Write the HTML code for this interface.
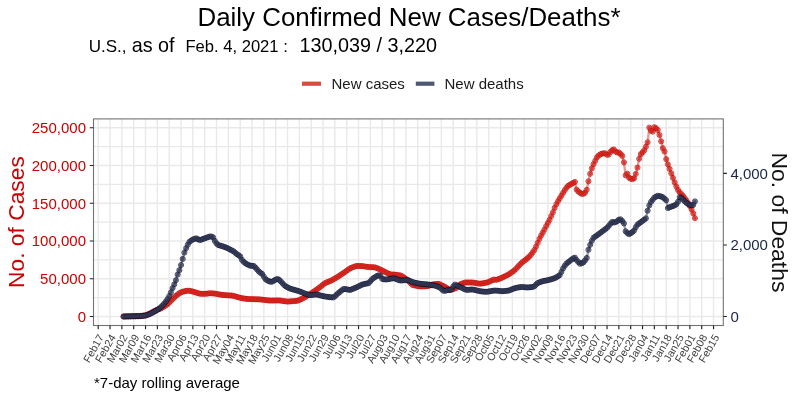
<!DOCTYPE html>
<html><head><meta charset="utf-8"><title>Daily Confirmed New Cases/Deaths</title>
<style>html,body{margin:0;padding:0;background:#fff;}body{width:800px;height:400px;overflow:hidden;font-family:"Liberation Sans",sans-serif;}svg{display:block;will-change:transform;}</style>
</head><body>
<svg width="800" height="400" viewBox="0 0 800 400" font-family="'Liberation Sans', sans-serif"><rect x="0" y="0" width="800" height="400" fill="#fff"/><path d="M93.5 316.50H723.3M93.5 297.62H723.3M93.5 278.74H723.3M93.5 259.86H723.3M93.5 240.98H723.3M93.5 222.10H723.3M93.5 203.22H723.3M93.5 184.34H723.3M93.5 165.46H723.3M93.5 146.58H723.3M93.5 127.70H723.3M98.20 118.9V325.5M110.03 118.9V325.5M121.87 118.9V325.5M133.70 118.9V325.5M145.53 118.9V325.5M157.37 118.9V325.5M169.20 118.9V325.5M181.03 118.9V325.5M192.87 118.9V325.5M204.70 118.9V325.5M216.53 118.9V325.5M228.37 118.9V325.5M240.20 118.9V325.5M252.04 118.9V325.5M263.87 118.9V325.5M275.70 118.9V325.5M287.54 118.9V325.5M299.37 118.9V325.5M311.20 118.9V325.5M323.04 118.9V325.5M334.87 118.9V325.5M346.70 118.9V325.5M358.54 118.9V325.5M370.37 118.9V325.5M382.20 118.9V325.5M394.04 118.9V325.5M405.87 118.9V325.5M417.70 118.9V325.5M429.54 118.9V325.5M441.37 118.9V325.5M453.20 118.9V325.5M465.04 118.9V325.5M476.87 118.9V325.5M488.71 118.9V325.5M500.54 118.9V325.5M512.37 118.9V325.5M524.21 118.9V325.5M536.04 118.9V325.5M547.87 118.9V325.5M559.71 118.9V325.5M571.54 118.9V325.5M583.37 118.9V325.5M595.21 118.9V325.5M607.04 118.9V325.5M618.87 118.9V325.5M630.71 118.9V325.5M642.54 118.9V325.5M654.37 118.9V325.5M666.21 118.9V325.5M678.04 118.9V325.5M689.88 118.9V325.5M701.71 118.9V325.5M713.54 118.9V325.5" stroke="#e9e9e9" stroke-width="1.4" fill="none"/><polyline points="123.56,316.5 125.25,316.45 126.94,316.4 128.63,316.34 130.32,316.29 132.01,316.24 133.7,316.19 135.39,316.14 137.08,316.09 138.77,316.04 140.46,315.94 142.15,315.73 143.84,315.51 145.53,315.29 147.22,314.61 148.91,313.93 150.61,313.15 152.3,312.17 153.99,311.2 155.68,310.44 157.37,309.77 159.06,309.11 160.75,308.45 162.44,307.51 164.13,306.45 165.82,305.39 167.51,304.24 169.2,302.55 170.89,300.86 172.58,299.17 174.27,297.48 175.96,295.88 177.65,294.53 179.34,293.21 181.03,292.46 182.72,291.72 184.42,291.28 186.11,290.9 187.8,290.73 189.49,290.78 191.18,291.13 192.87,291.6 194.56,292.08 196.25,292.6 197.94,293.14 199.63,293.68 201.32,293.8 203.01,293.8 204.7,293.8 206.39,293.74 208.08,293.49 209.77,293.23 211.46,293.32 213.15,293.45 214.84,293.59 216.53,293.89 218.23,294.2 219.92,294.52 221.61,294.83 223.3,295.05 224.99,295.15 226.68,295.25 228.37,295.35 230.06,295.45 231.75,295.55 233.44,295.87 235.13,296.35 236.82,296.83 238.51,297.32 240.2,297.8 241.89,298.19 243.58,298.44 245.27,298.68 246.96,298.92 248.65,299.04 250.34,299.09 252.04,299.15 253.73,299.2 255.42,299.25 257.11,299.31 258.8,299.36 260.49,299.46 262.18,299.66 263.87,299.86 265.56,300.07 267.25,300.27 268.94,300.47 270.63,300.59 272.32,300.55 274.01,300.51 275.7,300.47 277.39,300.43 279.08,300.45 280.77,300.68 282.46,300.91 284.15,301.14 285.85,301.37 287.54,301.6 289.23,301.46 290.92,301.33 292.61,301.19 294.3,301.06 295.99,300.92 297.68,300.72 299.37,299.96 301.06,299.21 302.75,298.45 304.44,297.52 306.13,296.33 307.82,295.31 309.51,294.29 311.2,293.28 312.89,292.22 314.58,291.03 316.27,289.84 317.96,288.65 319.66,287.38 321.35,286.02 323.04,284.67 324.73,283.32 326.42,282.53 328.11,281.86 329.8,281.18 331.49,280.46 333.18,279.49 334.87,278.51 336.56,277.54 338.25,276.5 339.94,275.36 341.63,274.22 343.32,273.09 345.01,271.91 346.7,270.72 348.39,269.53 350.08,268.37 351.77,267.69 353.47,267.01 355.16,266.34 356.85,265.92 358.54,265.97 360.23,266.03 361.92,266.08 363.61,266.28 365.3,266.55 366.99,266.82 368.68,267.09 370.37,267.15 372.06,267.21 373.75,267.26 375.44,267.49 377.13,268.2 378.82,268.91 380.51,269.66 382.2,270.5 383.89,271.35 385.58,272.19 387.28,273.04 388.97,273.88 390.66,274.43 392.35,274.49 394.04,274.56 395.73,274.72 397.42,274.99 399.11,275.26 400.8,275.53 402.49,276.47 404.18,277.66 405.87,278.85 407.56,280.06 409.25,281.75 410.94,283.44 412.63,285.03 414.32,285.36 416.01,285.7 417.7,286.04 419.39,286.38 421.09,286.46 422.78,286.41 424.47,286.35 426.16,286.29 427.85,286.12 429.54,285.5 431.23,284.87 432.92,284.36 434.61,284.18 436.3,284.0 437.99,283.83 439.68,284.22 441.37,285.07 443.06,285.92 444.75,286.78 446.44,287.79 448.13,288.84 449.82,289.89 451.51,289.54 453.2,289.03 454.9,288.51 456.59,287.77 458.28,286.1 459.97,284.43 461.66,283.77 463.35,283.13 465.04,282.5 466.73,282.5 468.42,282.5 470.11,282.5 471.8,282.5 473.49,282.67 475.18,282.95 476.87,283.23 478.56,283.51 480.25,283.71 481.94,283.43 483.63,283.14 485.32,282.86 487.01,282.58 488.71,281.92 490.4,281.11 492.09,280.3 493.78,279.51 495.47,279.84 497.16,279.64 498.85,278.96 500.54,278.28 502.23,277.61 503.92,276.8 505.61,275.96 507.3,275.12 508.99,274.23 510.68,273.04 512.37,271.85 514.06,270.66 515.75,269.12 517.44,267.15 519.13,265.37 520.83,263.67 522.52,262.11 524.21,260.85 525.9,259.58 527.59,258.11 529.28,256.63 530.97,254.71 532.66,252.46 534.35,249.98 536.04,246.66 537.73,242.8 539.42,238.85 541.11,235.56 542.8,232.6 544.49,229.52 546.18,226.13 547.87,222.93 549.56,219.86 551.25,216.05 552.94,212.25 554.63,207.97 556.33,204.35 558.02,201.22 559.71,198.37 561.4,195.66 563.09,192.85 564.78,190.11 566.47,187.71 568.16,185.85 569.85,184.84 571.54,183.84 573.23,182.89 574.92,181.94 576.61,189.58 578.3,191.48 579.99,192.73 581.68,193.86 583.37,193.82 585.06,192.69 586.75,189.78 588.44,181.31 590.14,173.77 591.83,168.44 593.52,164.17 595.21,160.79 596.9,157.44 598.59,155.52 600.28,154.4 601.97,153.63 603.66,153.33 605.35,153.38 607.04,154.75 608.73,154.6 610.42,151.92 612.11,150.19 613.8,149.47 615.49,151.56 617.18,152.5 618.87,152.5 620.56,153.91 622.25,155.95 623.95,162.28 625.64,175.3 627.33,173.65 629.02,177.66 630.71,178.68 632.4,179.14 634.09,178.26 635.78,173.93 637.47,167.62 639.16,158.76 640.85,154.15 642.54,152.46 644.23,150.25 645.92,146.74 647.61,142.28 649.3,127.61 650.99,130.74 652.68,131.61 654.37,127.22 656.07,128.27 657.76,130.01 659.45,135.01 661.14,141.3 662.83,148.15 664.52,151.54 666.21,159.17 667.9,164.39 669.59,168.92 671.28,173.37 672.97,177.89 674.66,182.46 676.35,186.53 678.04,189.96 679.73,192.48 681.42,194.25 683.11,196.05 684.8,198.29 686.49,200.53 688.18,203.23 689.88,206.0 691.57,209.45 693.26,213.43 694.95,218.15" fill="none" stroke="#cc2211" stroke-opacity="0.45" stroke-width="2.4" stroke-linejoin="round" stroke-linecap="round"/><g fill="none" stroke="#c40000" stroke-opacity="0.8" stroke-width="0.9"><circle cx="123.56" cy="316.5" r="2.55"/><circle cx="125.25" cy="316.45" r="2.55"/><circle cx="126.94" cy="316.4" r="2.55"/><circle cx="128.63" cy="316.34" r="2.55"/><circle cx="130.32" cy="316.29" r="2.55"/><circle cx="132.01" cy="316.24" r="2.55"/><circle cx="133.7" cy="316.19" r="2.55"/><circle cx="135.39" cy="316.14" r="2.55"/><circle cx="137.08" cy="316.09" r="2.55"/><circle cx="138.77" cy="316.04" r="2.55"/><circle cx="140.46" cy="315.94" r="2.55"/><circle cx="142.15" cy="315.73" r="2.55"/><circle cx="143.84" cy="315.51" r="2.55"/><circle cx="145.53" cy="315.29" r="2.55"/><circle cx="147.22" cy="314.61" r="2.55"/><circle cx="148.91" cy="313.93" r="2.55"/><circle cx="150.61" cy="313.15" r="2.55"/><circle cx="152.3" cy="312.17" r="2.55"/><circle cx="153.99" cy="311.2" r="2.55"/><circle cx="155.68" cy="310.44" r="2.55"/><circle cx="157.37" cy="309.77" r="2.55"/><circle cx="159.06" cy="309.11" r="2.55"/><circle cx="160.75" cy="308.45" r="2.55"/><circle cx="162.44" cy="307.51" r="2.55"/><circle cx="164.13" cy="306.45" r="2.55"/><circle cx="165.82" cy="305.39" r="2.55"/><circle cx="167.51" cy="304.24" r="2.55"/><circle cx="169.2" cy="302.55" r="2.55"/><circle cx="170.89" cy="300.86" r="2.55"/><circle cx="172.58" cy="299.17" r="2.55"/><circle cx="174.27" cy="297.48" r="2.55"/><circle cx="175.96" cy="295.88" r="2.55"/><circle cx="177.65" cy="294.53" r="2.55"/><circle cx="179.34" cy="293.21" r="2.55"/><circle cx="181.03" cy="292.46" r="2.55"/><circle cx="182.72" cy="291.72" r="2.55"/><circle cx="184.42" cy="291.28" r="2.55"/><circle cx="186.11" cy="290.9" r="2.55"/><circle cx="187.8" cy="290.73" r="2.55"/><circle cx="189.49" cy="290.78" r="2.55"/><circle cx="191.18" cy="291.13" r="2.55"/><circle cx="192.87" cy="291.6" r="2.55"/><circle cx="194.56" cy="292.08" r="2.55"/><circle cx="196.25" cy="292.6" r="2.55"/><circle cx="197.94" cy="293.14" r="2.55"/><circle cx="199.63" cy="293.68" r="2.55"/><circle cx="201.32" cy="293.8" r="2.55"/><circle cx="203.01" cy="293.8" r="2.55"/><circle cx="204.7" cy="293.8" r="2.55"/><circle cx="206.39" cy="293.74" r="2.55"/><circle cx="208.08" cy="293.49" r="2.55"/><circle cx="209.77" cy="293.23" r="2.55"/><circle cx="211.46" cy="293.32" r="2.55"/><circle cx="213.15" cy="293.45" r="2.55"/><circle cx="214.84" cy="293.59" r="2.55"/><circle cx="216.53" cy="293.89" r="2.55"/><circle cx="218.23" cy="294.2" r="2.55"/><circle cx="219.92" cy="294.52" r="2.55"/><circle cx="221.61" cy="294.83" r="2.55"/><circle cx="223.3" cy="295.05" r="2.55"/><circle cx="224.99" cy="295.15" r="2.55"/><circle cx="226.68" cy="295.25" r="2.55"/><circle cx="228.37" cy="295.35" r="2.55"/><circle cx="230.06" cy="295.45" r="2.55"/><circle cx="231.75" cy="295.55" r="2.55"/><circle cx="233.44" cy="295.87" r="2.55"/><circle cx="235.13" cy="296.35" r="2.55"/><circle cx="236.82" cy="296.83" r="2.55"/><circle cx="238.51" cy="297.32" r="2.55"/><circle cx="240.2" cy="297.8" r="2.55"/><circle cx="241.89" cy="298.19" r="2.55"/><circle cx="243.58" cy="298.44" r="2.55"/><circle cx="245.27" cy="298.68" r="2.55"/><circle cx="246.96" cy="298.92" r="2.55"/><circle cx="248.65" cy="299.04" r="2.55"/><circle cx="250.34" cy="299.09" r="2.55"/><circle cx="252.04" cy="299.15" r="2.55"/><circle cx="253.73" cy="299.2" r="2.55"/><circle cx="255.42" cy="299.25" r="2.55"/><circle cx="257.11" cy="299.31" r="2.55"/><circle cx="258.8" cy="299.36" r="2.55"/><circle cx="260.49" cy="299.46" r="2.55"/><circle cx="262.18" cy="299.66" r="2.55"/><circle cx="263.87" cy="299.86" r="2.55"/><circle cx="265.56" cy="300.07" r="2.55"/><circle cx="267.25" cy="300.27" r="2.55"/><circle cx="268.94" cy="300.47" r="2.55"/><circle cx="270.63" cy="300.59" r="2.55"/><circle cx="272.32" cy="300.55" r="2.55"/><circle cx="274.01" cy="300.51" r="2.55"/><circle cx="275.7" cy="300.47" r="2.55"/><circle cx="277.39" cy="300.43" r="2.55"/><circle cx="279.08" cy="300.45" r="2.55"/><circle cx="280.77" cy="300.68" r="2.55"/><circle cx="282.46" cy="300.91" r="2.55"/><circle cx="284.15" cy="301.14" r="2.55"/><circle cx="285.85" cy="301.37" r="2.55"/><circle cx="287.54" cy="301.6" r="2.55"/><circle cx="289.23" cy="301.46" r="2.55"/><circle cx="290.92" cy="301.33" r="2.55"/><circle cx="292.61" cy="301.19" r="2.55"/><circle cx="294.3" cy="301.06" r="2.55"/><circle cx="295.99" cy="300.92" r="2.55"/><circle cx="297.68" cy="300.72" r="2.55"/><circle cx="299.37" cy="299.96" r="2.55"/><circle cx="301.06" cy="299.21" r="2.55"/><circle cx="302.75" cy="298.45" r="2.55"/><circle cx="304.44" cy="297.52" r="2.55"/><circle cx="306.13" cy="296.33" r="2.55"/><circle cx="307.82" cy="295.31" r="2.55"/><circle cx="309.51" cy="294.29" r="2.55"/><circle cx="311.2" cy="293.28" r="2.55"/><circle cx="312.89" cy="292.22" r="2.55"/><circle cx="314.58" cy="291.03" r="2.55"/><circle cx="316.27" cy="289.84" r="2.55"/><circle cx="317.96" cy="288.65" r="2.55"/><circle cx="319.66" cy="287.38" r="2.55"/><circle cx="321.35" cy="286.02" r="2.55"/><circle cx="323.04" cy="284.67" r="2.55"/><circle cx="324.73" cy="283.32" r="2.55"/><circle cx="326.42" cy="282.53" r="2.55"/><circle cx="328.11" cy="281.86" r="2.55"/><circle cx="329.8" cy="281.18" r="2.55"/><circle cx="331.49" cy="280.46" r="2.55"/><circle cx="333.18" cy="279.49" r="2.55"/><circle cx="334.87" cy="278.51" r="2.55"/><circle cx="336.56" cy="277.54" r="2.55"/><circle cx="338.25" cy="276.5" r="2.55"/><circle cx="339.94" cy="275.36" r="2.55"/><circle cx="341.63" cy="274.22" r="2.55"/><circle cx="343.32" cy="273.09" r="2.55"/><circle cx="345.01" cy="271.91" r="2.55"/><circle cx="346.7" cy="270.72" r="2.55"/><circle cx="348.39" cy="269.53" r="2.55"/><circle cx="350.08" cy="268.37" r="2.55"/><circle cx="351.77" cy="267.69" r="2.55"/><circle cx="353.47" cy="267.01" r="2.55"/><circle cx="355.16" cy="266.34" r="2.55"/><circle cx="356.85" cy="265.92" r="2.55"/><circle cx="358.54" cy="265.97" r="2.55"/><circle cx="360.23" cy="266.03" r="2.55"/><circle cx="361.92" cy="266.08" r="2.55"/><circle cx="363.61" cy="266.28" r="2.55"/><circle cx="365.3" cy="266.55" r="2.55"/><circle cx="366.99" cy="266.82" r="2.55"/><circle cx="368.68" cy="267.09" r="2.55"/><circle cx="370.37" cy="267.15" r="2.55"/><circle cx="372.06" cy="267.21" r="2.55"/><circle cx="373.75" cy="267.26" r="2.55"/><circle cx="375.44" cy="267.49" r="2.55"/><circle cx="377.13" cy="268.2" r="2.55"/><circle cx="378.82" cy="268.91" r="2.55"/><circle cx="380.51" cy="269.66" r="2.55"/><circle cx="382.2" cy="270.5" r="2.55"/><circle cx="383.89" cy="271.35" r="2.55"/><circle cx="385.58" cy="272.19" r="2.55"/><circle cx="387.28" cy="273.04" r="2.55"/><circle cx="388.97" cy="273.88" r="2.55"/><circle cx="390.66" cy="274.43" r="2.55"/><circle cx="392.35" cy="274.49" r="2.55"/><circle cx="394.04" cy="274.56" r="2.55"/><circle cx="395.73" cy="274.72" r="2.55"/><circle cx="397.42" cy="274.99" r="2.55"/><circle cx="399.11" cy="275.26" r="2.55"/><circle cx="400.8" cy="275.53" r="2.55"/><circle cx="402.49" cy="276.47" r="2.55"/><circle cx="404.18" cy="277.66" r="2.55"/><circle cx="405.87" cy="278.85" r="2.55"/><circle cx="407.56" cy="280.06" r="2.55"/><circle cx="409.25" cy="281.75" r="2.55"/><circle cx="410.94" cy="283.44" r="2.55"/><circle cx="412.63" cy="285.03" r="2.55"/><circle cx="414.32" cy="285.36" r="2.55"/><circle cx="416.01" cy="285.7" r="2.55"/><circle cx="417.7" cy="286.04" r="2.55"/><circle cx="419.39" cy="286.38" r="2.55"/><circle cx="421.09" cy="286.46" r="2.55"/><circle cx="422.78" cy="286.41" r="2.55"/><circle cx="424.47" cy="286.35" r="2.55"/><circle cx="426.16" cy="286.29" r="2.55"/><circle cx="427.85" cy="286.12" r="2.55"/><circle cx="429.54" cy="285.5" r="2.55"/><circle cx="431.23" cy="284.87" r="2.55"/><circle cx="432.92" cy="284.36" r="2.55"/><circle cx="434.61" cy="284.18" r="2.55"/><circle cx="436.3" cy="284.0" r="2.55"/><circle cx="437.99" cy="283.83" r="2.55"/><circle cx="439.68" cy="284.22" r="2.55"/><circle cx="441.37" cy="285.07" r="2.55"/><circle cx="443.06" cy="285.92" r="2.55"/><circle cx="444.75" cy="286.78" r="2.55"/><circle cx="446.44" cy="287.79" r="2.55"/><circle cx="448.13" cy="288.84" r="2.55"/><circle cx="449.82" cy="289.89" r="2.55"/><circle cx="451.51" cy="289.54" r="2.55"/><circle cx="453.2" cy="289.03" r="2.55"/><circle cx="454.9" cy="288.51" r="2.55"/><circle cx="456.59" cy="287.77" r="2.55"/><circle cx="458.28" cy="286.1" r="2.55"/><circle cx="459.97" cy="284.43" r="2.55"/><circle cx="461.66" cy="283.77" r="2.55"/><circle cx="463.35" cy="283.13" r="2.55"/><circle cx="465.04" cy="282.5" r="2.55"/><circle cx="466.73" cy="282.5" r="2.55"/><circle cx="468.42" cy="282.5" r="2.55"/><circle cx="470.11" cy="282.5" r="2.55"/><circle cx="471.8" cy="282.5" r="2.55"/><circle cx="473.49" cy="282.67" r="2.55"/><circle cx="475.18" cy="282.95" r="2.55"/><circle cx="476.87" cy="283.23" r="2.55"/><circle cx="478.56" cy="283.51" r="2.55"/><circle cx="480.25" cy="283.71" r="2.55"/><circle cx="481.94" cy="283.43" r="2.55"/><circle cx="483.63" cy="283.14" r="2.55"/><circle cx="485.32" cy="282.86" r="2.55"/><circle cx="487.01" cy="282.58" r="2.55"/><circle cx="488.71" cy="281.92" r="2.55"/><circle cx="490.4" cy="281.11" r="2.55"/><circle cx="492.09" cy="280.3" r="2.55"/><circle cx="493.78" cy="279.51" r="2.55"/><circle cx="495.47" cy="279.84" r="2.55"/><circle cx="497.16" cy="279.64" r="2.55"/><circle cx="498.85" cy="278.96" r="2.55"/><circle cx="500.54" cy="278.28" r="2.55"/><circle cx="502.23" cy="277.61" r="2.55"/><circle cx="503.92" cy="276.8" r="2.55"/><circle cx="505.61" cy="275.96" r="2.55"/><circle cx="507.3" cy="275.12" r="2.55"/><circle cx="508.99" cy="274.23" r="2.55"/><circle cx="510.68" cy="273.04" r="2.55"/><circle cx="512.37" cy="271.85" r="2.55"/><circle cx="514.06" cy="270.66" r="2.55"/><circle cx="515.75" cy="269.12" r="2.55"/><circle cx="517.44" cy="267.15" r="2.55"/><circle cx="519.13" cy="265.37" r="2.55"/><circle cx="520.83" cy="263.67" r="2.55"/><circle cx="522.52" cy="262.11" r="2.55"/><circle cx="524.21" cy="260.85" r="2.55"/><circle cx="525.9" cy="259.58" r="2.55"/><circle cx="527.59" cy="258.11" r="2.55"/><circle cx="529.28" cy="256.63" r="2.55"/><circle cx="530.97" cy="254.71" r="2.55"/><circle cx="532.66" cy="252.46" r="2.55"/><circle cx="534.35" cy="249.98" r="2.55"/><circle cx="536.04" cy="246.66" r="2.55"/><circle cx="537.73" cy="242.8" r="2.55"/><circle cx="539.42" cy="238.85" r="2.55"/><circle cx="541.11" cy="235.56" r="2.55"/><circle cx="542.8" cy="232.6" r="2.55"/><circle cx="544.49" cy="229.52" r="2.55"/><circle cx="546.18" cy="226.13" r="2.55"/><circle cx="547.87" cy="222.93" r="2.55"/><circle cx="549.56" cy="219.86" r="2.55"/><circle cx="551.25" cy="216.05" r="2.55"/><circle cx="552.94" cy="212.25" r="2.55"/><circle cx="554.63" cy="207.97" r="2.55"/><circle cx="556.33" cy="204.35" r="2.55"/><circle cx="558.02" cy="201.22" r="2.55"/><circle cx="559.71" cy="198.37" r="2.55"/><circle cx="561.4" cy="195.66" r="2.55"/><circle cx="563.09" cy="192.85" r="2.55"/><circle cx="564.78" cy="190.11" r="2.55"/><circle cx="566.47" cy="187.71" r="2.55"/><circle cx="568.16" cy="185.85" r="2.55"/><circle cx="569.85" cy="184.84" r="2.55"/><circle cx="571.54" cy="183.84" r="2.55"/><circle cx="573.23" cy="182.89" r="2.55"/><circle cx="574.92" cy="181.94" r="2.55"/><circle cx="576.61" cy="189.58" r="2.55"/><circle cx="578.3" cy="191.48" r="2.55"/><circle cx="579.99" cy="192.73" r="2.55"/><circle cx="581.68" cy="193.86" r="2.55"/><circle cx="583.37" cy="193.82" r="2.55"/><circle cx="585.06" cy="192.69" r="2.55"/><circle cx="586.75" cy="189.78" r="2.55"/><circle cx="588.44" cy="181.31" r="2.55"/><circle cx="590.14" cy="173.77" r="2.55"/><circle cx="591.83" cy="168.44" r="2.55"/><circle cx="593.52" cy="164.17" r="2.55"/><circle cx="595.21" cy="160.79" r="2.55"/><circle cx="596.9" cy="157.44" r="2.55"/><circle cx="598.59" cy="155.52" r="2.55"/><circle cx="600.28" cy="154.4" r="2.55"/><circle cx="601.97" cy="153.63" r="2.55"/><circle cx="603.66" cy="153.33" r="2.55"/><circle cx="605.35" cy="153.38" r="2.55"/><circle cx="607.04" cy="154.75" r="2.55"/><circle cx="608.73" cy="154.6" r="2.55"/><circle cx="610.42" cy="151.92" r="2.55"/><circle cx="612.11" cy="150.19" r="2.55"/><circle cx="613.8" cy="149.47" r="2.55"/><circle cx="615.49" cy="151.56" r="2.55"/><circle cx="617.18" cy="152.5" r="2.55"/><circle cx="618.87" cy="152.5" r="2.55"/><circle cx="620.56" cy="153.91" r="2.55"/><circle cx="622.25" cy="155.95" r="2.55"/><circle cx="623.95" cy="162.28" r="2.55"/><circle cx="625.64" cy="175.3" r="2.55"/><circle cx="627.33" cy="173.65" r="2.55"/><circle cx="629.02" cy="177.66" r="2.55"/><circle cx="630.71" cy="178.68" r="2.55"/><circle cx="632.4" cy="179.14" r="2.55"/><circle cx="634.09" cy="178.26" r="2.55"/><circle cx="635.78" cy="173.93" r="2.55"/><circle cx="637.47" cy="167.62" r="2.55"/><circle cx="639.16" cy="158.76" r="2.55"/><circle cx="640.85" cy="154.15" r="2.55"/><circle cx="642.54" cy="152.46" r="2.55"/><circle cx="644.23" cy="150.25" r="2.55"/><circle cx="645.92" cy="146.74" r="2.55"/><circle cx="647.61" cy="142.28" r="2.55"/><circle cx="649.3" cy="127.61" r="2.55"/><circle cx="650.99" cy="130.74" r="2.55"/><circle cx="652.68" cy="131.61" r="2.55"/><circle cx="654.37" cy="127.22" r="2.55"/><circle cx="656.07" cy="128.27" r="2.55"/><circle cx="657.76" cy="130.01" r="2.55"/><circle cx="659.45" cy="135.01" r="2.55"/><circle cx="661.14" cy="141.3" r="2.55"/><circle cx="662.83" cy="148.15" r="2.55"/><circle cx="664.52" cy="151.54" r="2.55"/><circle cx="666.21" cy="159.17" r="2.55"/><circle cx="667.9" cy="164.39" r="2.55"/><circle cx="669.59" cy="168.92" r="2.55"/><circle cx="671.28" cy="173.37" r="2.55"/><circle cx="672.97" cy="177.89" r="2.55"/><circle cx="674.66" cy="182.46" r="2.55"/><circle cx="676.35" cy="186.53" r="2.55"/><circle cx="678.04" cy="189.96" r="2.55"/><circle cx="679.73" cy="192.48" r="2.55"/><circle cx="681.42" cy="194.25" r="2.55"/><circle cx="683.11" cy="196.05" r="2.55"/><circle cx="684.8" cy="198.29" r="2.55"/><circle cx="686.49" cy="200.53" r="2.55"/><circle cx="688.18" cy="203.23" r="2.55"/><circle cx="689.88" cy="206.0" r="2.55"/><circle cx="691.57" cy="209.45" r="2.55"/><circle cx="693.26" cy="213.43" r="2.55"/><circle cx="694.95" cy="218.15" r="2.55"/></g><g fill="#d02219" fill-opacity="0.78"><circle cx="123.56" cy="316.5" r="2.1"/><circle cx="125.25" cy="316.45" r="2.1"/><circle cx="126.94" cy="316.4" r="2.1"/><circle cx="128.63" cy="316.34" r="2.1"/><circle cx="130.32" cy="316.29" r="2.1"/><circle cx="132.01" cy="316.24" r="2.1"/><circle cx="133.7" cy="316.19" r="2.1"/><circle cx="135.39" cy="316.14" r="2.1"/><circle cx="137.08" cy="316.09" r="2.1"/><circle cx="138.77" cy="316.04" r="2.1"/><circle cx="140.46" cy="315.94" r="2.1"/><circle cx="142.15" cy="315.73" r="2.1"/><circle cx="143.84" cy="315.51" r="2.1"/><circle cx="145.53" cy="315.29" r="2.1"/><circle cx="147.22" cy="314.61" r="2.1"/><circle cx="148.91" cy="313.93" r="2.1"/><circle cx="150.61" cy="313.15" r="2.1"/><circle cx="152.3" cy="312.17" r="2.1"/><circle cx="153.99" cy="311.2" r="2.1"/><circle cx="155.68" cy="310.44" r="2.1"/><circle cx="157.37" cy="309.77" r="2.1"/><circle cx="159.06" cy="309.11" r="2.1"/><circle cx="160.75" cy="308.45" r="2.1"/><circle cx="162.44" cy="307.51" r="2.1"/><circle cx="164.13" cy="306.45" r="2.1"/><circle cx="165.82" cy="305.39" r="2.1"/><circle cx="167.51" cy="304.24" r="2.1"/><circle cx="169.2" cy="302.55" r="2.1"/><circle cx="170.89" cy="300.86" r="2.1"/><circle cx="172.58" cy="299.17" r="2.1"/><circle cx="174.27" cy="297.48" r="2.1"/><circle cx="175.96" cy="295.88" r="2.1"/><circle cx="177.65" cy="294.53" r="2.1"/><circle cx="179.34" cy="293.21" r="2.1"/><circle cx="181.03" cy="292.46" r="2.1"/><circle cx="182.72" cy="291.72" r="2.1"/><circle cx="184.42" cy="291.28" r="2.1"/><circle cx="186.11" cy="290.9" r="2.1"/><circle cx="187.8" cy="290.73" r="2.1"/><circle cx="189.49" cy="290.78" r="2.1"/><circle cx="191.18" cy="291.13" r="2.1"/><circle cx="192.87" cy="291.6" r="2.1"/><circle cx="194.56" cy="292.08" r="2.1"/><circle cx="196.25" cy="292.6" r="2.1"/><circle cx="197.94" cy="293.14" r="2.1"/><circle cx="199.63" cy="293.68" r="2.1"/><circle cx="201.32" cy="293.8" r="2.1"/><circle cx="203.01" cy="293.8" r="2.1"/><circle cx="204.7" cy="293.8" r="2.1"/><circle cx="206.39" cy="293.74" r="2.1"/><circle cx="208.08" cy="293.49" r="2.1"/><circle cx="209.77" cy="293.23" r="2.1"/><circle cx="211.46" cy="293.32" r="2.1"/><circle cx="213.15" cy="293.45" r="2.1"/><circle cx="214.84" cy="293.59" r="2.1"/><circle cx="216.53" cy="293.89" r="2.1"/><circle cx="218.23" cy="294.2" r="2.1"/><circle cx="219.92" cy="294.52" r="2.1"/><circle cx="221.61" cy="294.83" r="2.1"/><circle cx="223.3" cy="295.05" r="2.1"/><circle cx="224.99" cy="295.15" r="2.1"/><circle cx="226.68" cy="295.25" r="2.1"/><circle cx="228.37" cy="295.35" r="2.1"/><circle cx="230.06" cy="295.45" r="2.1"/><circle cx="231.75" cy="295.55" r="2.1"/><circle cx="233.44" cy="295.87" r="2.1"/><circle cx="235.13" cy="296.35" r="2.1"/><circle cx="236.82" cy="296.83" r="2.1"/><circle cx="238.51" cy="297.32" r="2.1"/><circle cx="240.2" cy="297.8" r="2.1"/><circle cx="241.89" cy="298.19" r="2.1"/><circle cx="243.58" cy="298.44" r="2.1"/><circle cx="245.27" cy="298.68" r="2.1"/><circle cx="246.96" cy="298.92" r="2.1"/><circle cx="248.65" cy="299.04" r="2.1"/><circle cx="250.34" cy="299.09" r="2.1"/><circle cx="252.04" cy="299.15" r="2.1"/><circle cx="253.73" cy="299.2" r="2.1"/><circle cx="255.42" cy="299.25" r="2.1"/><circle cx="257.11" cy="299.31" r="2.1"/><circle cx="258.8" cy="299.36" r="2.1"/><circle cx="260.49" cy="299.46" r="2.1"/><circle cx="262.18" cy="299.66" r="2.1"/><circle cx="263.87" cy="299.86" r="2.1"/><circle cx="265.56" cy="300.07" r="2.1"/><circle cx="267.25" cy="300.27" r="2.1"/><circle cx="268.94" cy="300.47" r="2.1"/><circle cx="270.63" cy="300.59" r="2.1"/><circle cx="272.32" cy="300.55" r="2.1"/><circle cx="274.01" cy="300.51" r="2.1"/><circle cx="275.7" cy="300.47" r="2.1"/><circle cx="277.39" cy="300.43" r="2.1"/><circle cx="279.08" cy="300.45" r="2.1"/><circle cx="280.77" cy="300.68" r="2.1"/><circle cx="282.46" cy="300.91" r="2.1"/><circle cx="284.15" cy="301.14" r="2.1"/><circle cx="285.85" cy="301.37" r="2.1"/><circle cx="287.54" cy="301.6" r="2.1"/><circle cx="289.23" cy="301.46" r="2.1"/><circle cx="290.92" cy="301.33" r="2.1"/><circle cx="292.61" cy="301.19" r="2.1"/><circle cx="294.3" cy="301.06" r="2.1"/><circle cx="295.99" cy="300.92" r="2.1"/><circle cx="297.68" cy="300.72" r="2.1"/><circle cx="299.37" cy="299.96" r="2.1"/><circle cx="301.06" cy="299.21" r="2.1"/><circle cx="302.75" cy="298.45" r="2.1"/><circle cx="304.44" cy="297.52" r="2.1"/><circle cx="306.13" cy="296.33" r="2.1"/><circle cx="307.82" cy="295.31" r="2.1"/><circle cx="309.51" cy="294.29" r="2.1"/><circle cx="311.2" cy="293.28" r="2.1"/><circle cx="312.89" cy="292.22" r="2.1"/><circle cx="314.58" cy="291.03" r="2.1"/><circle cx="316.27" cy="289.84" r="2.1"/><circle cx="317.96" cy="288.65" r="2.1"/><circle cx="319.66" cy="287.38" r="2.1"/><circle cx="321.35" cy="286.02" r="2.1"/><circle cx="323.04" cy="284.67" r="2.1"/><circle cx="324.73" cy="283.32" r="2.1"/><circle cx="326.42" cy="282.53" r="2.1"/><circle cx="328.11" cy="281.86" r="2.1"/><circle cx="329.8" cy="281.18" r="2.1"/><circle cx="331.49" cy="280.46" r="2.1"/><circle cx="333.18" cy="279.49" r="2.1"/><circle cx="334.87" cy="278.51" r="2.1"/><circle cx="336.56" cy="277.54" r="2.1"/><circle cx="338.25" cy="276.5" r="2.1"/><circle cx="339.94" cy="275.36" r="2.1"/><circle cx="341.63" cy="274.22" r="2.1"/><circle cx="343.32" cy="273.09" r="2.1"/><circle cx="345.01" cy="271.91" r="2.1"/><circle cx="346.7" cy="270.72" r="2.1"/><circle cx="348.39" cy="269.53" r="2.1"/><circle cx="350.08" cy="268.37" r="2.1"/><circle cx="351.77" cy="267.69" r="2.1"/><circle cx="353.47" cy="267.01" r="2.1"/><circle cx="355.16" cy="266.34" r="2.1"/><circle cx="356.85" cy="265.92" r="2.1"/><circle cx="358.54" cy="265.97" r="2.1"/><circle cx="360.23" cy="266.03" r="2.1"/><circle cx="361.92" cy="266.08" r="2.1"/><circle cx="363.61" cy="266.28" r="2.1"/><circle cx="365.3" cy="266.55" r="2.1"/><circle cx="366.99" cy="266.82" r="2.1"/><circle cx="368.68" cy="267.09" r="2.1"/><circle cx="370.37" cy="267.15" r="2.1"/><circle cx="372.06" cy="267.21" r="2.1"/><circle cx="373.75" cy="267.26" r="2.1"/><circle cx="375.44" cy="267.49" r="2.1"/><circle cx="377.13" cy="268.2" r="2.1"/><circle cx="378.82" cy="268.91" r="2.1"/><circle cx="380.51" cy="269.66" r="2.1"/><circle cx="382.2" cy="270.5" r="2.1"/><circle cx="383.89" cy="271.35" r="2.1"/><circle cx="385.58" cy="272.19" r="2.1"/><circle cx="387.28" cy="273.04" r="2.1"/><circle cx="388.97" cy="273.88" r="2.1"/><circle cx="390.66" cy="274.43" r="2.1"/><circle cx="392.35" cy="274.49" r="2.1"/><circle cx="394.04" cy="274.56" r="2.1"/><circle cx="395.73" cy="274.72" r="2.1"/><circle cx="397.42" cy="274.99" r="2.1"/><circle cx="399.11" cy="275.26" r="2.1"/><circle cx="400.8" cy="275.53" r="2.1"/><circle cx="402.49" cy="276.47" r="2.1"/><circle cx="404.18" cy="277.66" r="2.1"/><circle cx="405.87" cy="278.85" r="2.1"/><circle cx="407.56" cy="280.06" r="2.1"/><circle cx="409.25" cy="281.75" r="2.1"/><circle cx="410.94" cy="283.44" r="2.1"/><circle cx="412.63" cy="285.03" r="2.1"/><circle cx="414.32" cy="285.36" r="2.1"/><circle cx="416.01" cy="285.7" r="2.1"/><circle cx="417.7" cy="286.04" r="2.1"/><circle cx="419.39" cy="286.38" r="2.1"/><circle cx="421.09" cy="286.46" r="2.1"/><circle cx="422.78" cy="286.41" r="2.1"/><circle cx="424.47" cy="286.35" r="2.1"/><circle cx="426.16" cy="286.29" r="2.1"/><circle cx="427.85" cy="286.12" r="2.1"/><circle cx="429.54" cy="285.5" r="2.1"/><circle cx="431.23" cy="284.87" r="2.1"/><circle cx="432.92" cy="284.36" r="2.1"/><circle cx="434.61" cy="284.18" r="2.1"/><circle cx="436.3" cy="284.0" r="2.1"/><circle cx="437.99" cy="283.83" r="2.1"/><circle cx="439.68" cy="284.22" r="2.1"/><circle cx="441.37" cy="285.07" r="2.1"/><circle cx="443.06" cy="285.92" r="2.1"/><circle cx="444.75" cy="286.78" r="2.1"/><circle cx="446.44" cy="287.79" r="2.1"/><circle cx="448.13" cy="288.84" r="2.1"/><circle cx="449.82" cy="289.89" r="2.1"/><circle cx="451.51" cy="289.54" r="2.1"/><circle cx="453.2" cy="289.03" r="2.1"/><circle cx="454.9" cy="288.51" r="2.1"/><circle cx="456.59" cy="287.77" r="2.1"/><circle cx="458.28" cy="286.1" r="2.1"/><circle cx="459.97" cy="284.43" r="2.1"/><circle cx="461.66" cy="283.77" r="2.1"/><circle cx="463.35" cy="283.13" r="2.1"/><circle cx="465.04" cy="282.5" r="2.1"/><circle cx="466.73" cy="282.5" r="2.1"/><circle cx="468.42" cy="282.5" r="2.1"/><circle cx="470.11" cy="282.5" r="2.1"/><circle cx="471.8" cy="282.5" r="2.1"/><circle cx="473.49" cy="282.67" r="2.1"/><circle cx="475.18" cy="282.95" r="2.1"/><circle cx="476.87" cy="283.23" r="2.1"/><circle cx="478.56" cy="283.51" r="2.1"/><circle cx="480.25" cy="283.71" r="2.1"/><circle cx="481.94" cy="283.43" r="2.1"/><circle cx="483.63" cy="283.14" r="2.1"/><circle cx="485.32" cy="282.86" r="2.1"/><circle cx="487.01" cy="282.58" r="2.1"/><circle cx="488.71" cy="281.92" r="2.1"/><circle cx="490.4" cy="281.11" r="2.1"/><circle cx="492.09" cy="280.3" r="2.1"/><circle cx="493.78" cy="279.51" r="2.1"/><circle cx="495.47" cy="279.84" r="2.1"/><circle cx="497.16" cy="279.64" r="2.1"/><circle cx="498.85" cy="278.96" r="2.1"/><circle cx="500.54" cy="278.28" r="2.1"/><circle cx="502.23" cy="277.61" r="2.1"/><circle cx="503.92" cy="276.8" r="2.1"/><circle cx="505.61" cy="275.96" r="2.1"/><circle cx="507.3" cy="275.12" r="2.1"/><circle cx="508.99" cy="274.23" r="2.1"/><circle cx="510.68" cy="273.04" r="2.1"/><circle cx="512.37" cy="271.85" r="2.1"/><circle cx="514.06" cy="270.66" r="2.1"/><circle cx="515.75" cy="269.12" r="2.1"/><circle cx="517.44" cy="267.15" r="2.1"/><circle cx="519.13" cy="265.37" r="2.1"/><circle cx="520.83" cy="263.67" r="2.1"/><circle cx="522.52" cy="262.11" r="2.1"/><circle cx="524.21" cy="260.85" r="2.1"/><circle cx="525.9" cy="259.58" r="2.1"/><circle cx="527.59" cy="258.11" r="2.1"/><circle cx="529.28" cy="256.63" r="2.1"/><circle cx="530.97" cy="254.71" r="2.1"/><circle cx="532.66" cy="252.46" r="2.1"/><circle cx="534.35" cy="249.98" r="2.1"/><circle cx="536.04" cy="246.66" r="2.1"/><circle cx="537.73" cy="242.8" r="2.1"/><circle cx="539.42" cy="238.85" r="2.1"/><circle cx="541.11" cy="235.56" r="2.1"/><circle cx="542.8" cy="232.6" r="2.1"/><circle cx="544.49" cy="229.52" r="2.1"/><circle cx="546.18" cy="226.13" r="2.1"/><circle cx="547.87" cy="222.93" r="2.1"/><circle cx="549.56" cy="219.86" r="2.1"/><circle cx="551.25" cy="216.05" r="2.1"/><circle cx="552.94" cy="212.25" r="2.1"/><circle cx="554.63" cy="207.97" r="2.1"/><circle cx="556.33" cy="204.35" r="2.1"/><circle cx="558.02" cy="201.22" r="2.1"/><circle cx="559.71" cy="198.37" r="2.1"/><circle cx="561.4" cy="195.66" r="2.1"/><circle cx="563.09" cy="192.85" r="2.1"/><circle cx="564.78" cy="190.11" r="2.1"/><circle cx="566.47" cy="187.71" r="2.1"/><circle cx="568.16" cy="185.85" r="2.1"/><circle cx="569.85" cy="184.84" r="2.1"/><circle cx="571.54" cy="183.84" r="2.1"/><circle cx="573.23" cy="182.89" r="2.1"/><circle cx="574.92" cy="181.94" r="2.1"/><circle cx="576.61" cy="189.58" r="2.1"/><circle cx="578.3" cy="191.48" r="2.1"/><circle cx="579.99" cy="192.73" r="2.1"/><circle cx="581.68" cy="193.86" r="2.1"/><circle cx="583.37" cy="193.82" r="2.1"/><circle cx="585.06" cy="192.69" r="2.1"/><circle cx="586.75" cy="189.78" r="2.1"/><circle cx="588.44" cy="181.31" r="2.1"/><circle cx="590.14" cy="173.77" r="2.1"/><circle cx="591.83" cy="168.44" r="2.1"/><circle cx="593.52" cy="164.17" r="2.1"/><circle cx="595.21" cy="160.79" r="2.1"/><circle cx="596.9" cy="157.44" r="2.1"/><circle cx="598.59" cy="155.52" r="2.1"/><circle cx="600.28" cy="154.4" r="2.1"/><circle cx="601.97" cy="153.63" r="2.1"/><circle cx="603.66" cy="153.33" r="2.1"/><circle cx="605.35" cy="153.38" r="2.1"/><circle cx="607.04" cy="154.75" r="2.1"/><circle cx="608.73" cy="154.6" r="2.1"/><circle cx="610.42" cy="151.92" r="2.1"/><circle cx="612.11" cy="150.19" r="2.1"/><circle cx="613.8" cy="149.47" r="2.1"/><circle cx="615.49" cy="151.56" r="2.1"/><circle cx="617.18" cy="152.5" r="2.1"/><circle cx="618.87" cy="152.5" r="2.1"/><circle cx="620.56" cy="153.91" r="2.1"/><circle cx="622.25" cy="155.95" r="2.1"/><circle cx="623.95" cy="162.28" r="2.1"/><circle cx="625.64" cy="175.3" r="2.1"/><circle cx="627.33" cy="173.65" r="2.1"/><circle cx="629.02" cy="177.66" r="2.1"/><circle cx="630.71" cy="178.68" r="2.1"/><circle cx="632.4" cy="179.14" r="2.1"/><circle cx="634.09" cy="178.26" r="2.1"/><circle cx="635.78" cy="173.93" r="2.1"/><circle cx="637.47" cy="167.62" r="2.1"/><circle cx="639.16" cy="158.76" r="2.1"/><circle cx="640.85" cy="154.15" r="2.1"/><circle cx="642.54" cy="152.46" r="2.1"/><circle cx="644.23" cy="150.25" r="2.1"/><circle cx="645.92" cy="146.74" r="2.1"/><circle cx="647.61" cy="142.28" r="2.1"/><circle cx="649.3" cy="127.61" r="2.1"/><circle cx="650.99" cy="130.74" r="2.1"/><circle cx="652.68" cy="131.61" r="2.1"/><circle cx="654.37" cy="127.22" r="2.1"/><circle cx="656.07" cy="128.27" r="2.1"/><circle cx="657.76" cy="130.01" r="2.1"/><circle cx="659.45" cy="135.01" r="2.1"/><circle cx="661.14" cy="141.3" r="2.1"/><circle cx="662.83" cy="148.15" r="2.1"/><circle cx="664.52" cy="151.54" r="2.1"/><circle cx="666.21" cy="159.17" r="2.1"/><circle cx="667.9" cy="164.39" r="2.1"/><circle cx="669.59" cy="168.92" r="2.1"/><circle cx="671.28" cy="173.37" r="2.1"/><circle cx="672.97" cy="177.89" r="2.1"/><circle cx="674.66" cy="182.46" r="2.1"/><circle cx="676.35" cy="186.53" r="2.1"/><circle cx="678.04" cy="189.96" r="2.1"/><circle cx="679.73" cy="192.48" r="2.1"/><circle cx="681.42" cy="194.25" r="2.1"/><circle cx="683.11" cy="196.05" r="2.1"/><circle cx="684.8" cy="198.29" r="2.1"/><circle cx="686.49" cy="200.53" r="2.1"/><circle cx="688.18" cy="203.23" r="2.1"/><circle cx="689.88" cy="206.0" r="2.1"/><circle cx="691.57" cy="209.45" r="2.1"/><circle cx="693.26" cy="213.43" r="2.1"/><circle cx="694.95" cy="218.15" r="2.1"/></g><polyline points="123.56,316.5 125.25,316.47 126.94,316.44 128.63,316.41 130.32,316.38 132.01,316.35 133.7,316.31 135.39,316.28 137.08,316.25 138.77,316.22 140.46,316.15 142.15,315.97 143.84,315.78 145.53,315.59 147.22,314.99 148.91,314.39 150.61,313.68 152.3,312.78 153.99,311.87 155.68,310.85 157.37,309.77 159.06,308.69 160.75,307.25 162.44,305.56 164.13,303.71 165.82,301.6 167.51,299.07 169.2,296.1 170.89,292.4 172.58,288.17 174.27,284.46 175.96,280.18 177.65,274.6 179.34,270.15 181.03,265.05 182.72,258.9 184.42,252.59 186.11,248.2 187.8,244.69 189.49,241.84 191.18,240.58 192.87,239.47 194.56,238.89 196.25,238.3 197.94,239.2 199.63,240.1 201.32,239.7 203.01,238.94 204.7,238.35 206.39,237.77 208.08,237.15 209.77,236.51 211.46,236.58 213.15,237.41 214.84,240.93 216.53,243.44 218.23,245.04 219.92,245.52 221.61,246.0 223.3,246.54 224.99,247.17 226.68,247.8 228.37,248.59 230.06,249.53 231.75,250.37 233.44,251.23 235.13,252.65 236.82,254.05 238.51,255.18 240.2,256.45 241.89,259.76 243.58,261.76 245.27,263.19 246.96,264.19 248.65,265.02 250.34,265.8 252.04,265.8 253.73,265.93 255.42,267.62 257.11,269.44 258.8,271.46 260.49,272.83 262.18,273.97 263.87,276.73 265.56,279.19 267.25,280.33 268.94,281.23 270.63,281.78 272.32,281.63 274.01,280.54 275.7,279.61 277.39,278.92 279.08,279.77 280.77,281.35 282.46,283.21 284.15,285.07 285.85,286.44 287.54,287.32 289.23,288.2 290.92,288.86 292.61,289.34 294.3,289.82 295.99,290.3 297.68,290.8 299.37,291.31 301.06,291.95 302.75,292.66 304.44,293.37 306.13,293.98 307.82,294.56 309.51,295.13 311.2,295.13 312.89,294.88 314.58,294.64 316.27,294.41 317.96,294.84 319.66,295.27 321.35,295.7 323.04,296.1 324.73,296.4 326.42,296.71 328.11,296.96 329.8,297.12 331.49,297.28 333.18,297.45 334.87,296.38 336.56,294.69 338.25,293.15 339.94,291.8 341.63,290.44 343.32,289.09 345.01,289.0 346.7,289.34 348.39,289.68 350.08,289.97 351.77,289.29 353.47,288.61 355.16,287.94 356.85,287.2 358.54,286.37 360.23,285.53 361.92,284.69 363.61,284.17 365.3,283.82 366.99,283.47 368.68,283.11 370.37,281.22 372.06,279.26 373.75,277.96 375.44,276.9 377.13,275.83 378.82,275.28 380.51,275.9 382.2,278.88 383.89,279.4 385.58,279.4 387.28,279.4 388.97,279.1 390.66,278.74 392.35,278.39 394.04,278.22 395.73,278.89 397.42,279.57 399.11,280.24 400.8,280.54 402.49,280.4 404.18,280.27 405.87,280.13 407.56,280.02 409.25,280.7 410.94,281.38 412.63,282.05 414.32,282.61 416.01,282.95 417.7,283.29 419.39,283.63 421.09,283.84 422.78,283.99 424.47,284.14 426.16,284.28 427.85,284.46 429.54,284.73 431.23,285.0 432.92,285.27 434.61,285.54 436.3,286.09 437.99,286.74 439.68,287.38 441.37,288.87 443.06,290.56 444.75,290.92 446.44,290.35 448.13,290.0 449.82,290.0 451.51,289.53 453.2,286.52 454.9,284.62 456.59,285.38 458.28,286.13 459.97,286.89 461.66,287.72 463.35,288.56 465.04,289.4 466.73,289.95 468.42,289.79 470.11,289.63 471.8,289.47 473.49,289.64 475.18,290.06 476.87,290.48 478.56,290.9 480.25,291.28 481.94,291.45 483.63,291.63 485.32,291.8 487.01,291.77 488.71,291.47 490.4,291.18 492.09,290.89 493.78,290.6 495.47,290.6 497.16,290.69 498.85,290.87 500.54,291.05 502.23,291.22 503.92,291.1 505.61,290.93 507.3,290.75 508.99,290.5 510.68,289.83 512.37,289.15 514.06,288.47 515.75,287.96 517.44,287.63 519.13,287.31 520.83,286.98 522.52,287.02 524.21,287.18 525.9,287.35 527.59,287.49 529.28,287.33 530.97,287.17 532.66,287.0 534.35,286.29 536.04,284.58 537.73,283.01 539.42,282.39 541.11,281.76 542.8,281.19 544.49,280.85 546.18,280.51 547.87,280.18 549.56,279.75 551.25,279.24 552.94,278.72 554.63,278.21 556.33,277.28 558.02,276.23 559.71,275.18 561.4,271.97 563.09,268.37 564.78,265.83 566.47,263.63 568.16,262.27 569.85,260.92 571.54,259.62 573.23,258.31 574.92,257.7 576.61,260.1 578.3,262.05 579.99,263.74 581.68,263.28 583.37,262.36 585.06,260.47 586.75,257.94 588.44,249.77 590.14,244.84 591.83,240.79 593.52,237.79 595.21,236.61 596.9,235.42 598.59,234.18 600.28,232.92 601.97,231.65 603.66,230.38 605.35,229.11 607.04,227.84 608.73,225.93 610.42,223.78 612.11,221.97 613.8,222.49 615.49,222.15 617.18,221.19 618.87,219.73 620.56,219.31 622.25,221.0 623.95,223.42 625.64,231.29 627.33,232.98 629.02,234.23 630.71,233.17 632.4,232.1 634.09,230.58 635.78,227.22 637.47,224.59 639.16,223.39 640.85,222.18 642.54,220.92 644.23,219.63 645.92,218.35 647.61,210.74 649.3,205.41 650.99,201.98 652.68,199.76 654.37,197.53 656.07,196.64 657.76,195.78 659.45,196.04 661.14,196.59 662.83,197.21 664.52,198.71 666.21,200.24 667.9,208.07 669.59,207.28 671.28,206.62 672.97,206.09 674.66,205.34 676.35,204.33 678.04,201.74 679.73,197.29 681.42,197.79 683.11,199.7 684.8,201.31 686.49,202.91 688.18,204.03 689.88,205.05 691.57,205.3 693.26,204.97 694.95,201.41" fill="none" stroke="#232b4b" stroke-opacity="0.45" stroke-width="2.4" stroke-linejoin="round" stroke-linecap="round"/><g fill="none" stroke="#080c30" stroke-opacity="0.8" stroke-width="0.9"><circle cx="123.56" cy="316.5" r="2.55"/><circle cx="125.25" cy="316.47" r="2.55"/><circle cx="126.94" cy="316.44" r="2.55"/><circle cx="128.63" cy="316.41" r="2.55"/><circle cx="130.32" cy="316.38" r="2.55"/><circle cx="132.01" cy="316.35" r="2.55"/><circle cx="133.7" cy="316.31" r="2.55"/><circle cx="135.39" cy="316.28" r="2.55"/><circle cx="137.08" cy="316.25" r="2.55"/><circle cx="138.77" cy="316.22" r="2.55"/><circle cx="140.46" cy="316.15" r="2.55"/><circle cx="142.15" cy="315.97" r="2.55"/><circle cx="143.84" cy="315.78" r="2.55"/><circle cx="145.53" cy="315.59" r="2.55"/><circle cx="147.22" cy="314.99" r="2.55"/><circle cx="148.91" cy="314.39" r="2.55"/><circle cx="150.61" cy="313.68" r="2.55"/><circle cx="152.3" cy="312.78" r="2.55"/><circle cx="153.99" cy="311.87" r="2.55"/><circle cx="155.68" cy="310.85" r="2.55"/><circle cx="157.37" cy="309.77" r="2.55"/><circle cx="159.06" cy="308.69" r="2.55"/><circle cx="160.75" cy="307.25" r="2.55"/><circle cx="162.44" cy="305.56" r="2.55"/><circle cx="164.13" cy="303.71" r="2.55"/><circle cx="165.82" cy="301.6" r="2.55"/><circle cx="167.51" cy="299.07" r="2.55"/><circle cx="169.2" cy="296.1" r="2.55"/><circle cx="170.89" cy="292.4" r="2.55"/><circle cx="172.58" cy="288.17" r="2.55"/><circle cx="174.27" cy="284.46" r="2.55"/><circle cx="175.96" cy="280.18" r="2.55"/><circle cx="177.65" cy="274.6" r="2.55"/><circle cx="179.34" cy="270.15" r="2.55"/><circle cx="181.03" cy="265.05" r="2.55"/><circle cx="182.72" cy="258.9" r="2.55"/><circle cx="184.42" cy="252.59" r="2.55"/><circle cx="186.11" cy="248.2" r="2.55"/><circle cx="187.8" cy="244.69" r="2.55"/><circle cx="189.49" cy="241.84" r="2.55"/><circle cx="191.18" cy="240.58" r="2.55"/><circle cx="192.87" cy="239.47" r="2.55"/><circle cx="194.56" cy="238.89" r="2.55"/><circle cx="196.25" cy="238.3" r="2.55"/><circle cx="197.94" cy="239.2" r="2.55"/><circle cx="199.63" cy="240.1" r="2.55"/><circle cx="201.32" cy="239.7" r="2.55"/><circle cx="203.01" cy="238.94" r="2.55"/><circle cx="204.7" cy="238.35" r="2.55"/><circle cx="206.39" cy="237.77" r="2.55"/><circle cx="208.08" cy="237.15" r="2.55"/><circle cx="209.77" cy="236.51" r="2.55"/><circle cx="211.46" cy="236.58" r="2.55"/><circle cx="213.15" cy="237.41" r="2.55"/><circle cx="214.84" cy="240.93" r="2.55"/><circle cx="216.53" cy="243.44" r="2.55"/><circle cx="218.23" cy="245.04" r="2.55"/><circle cx="219.92" cy="245.52" r="2.55"/><circle cx="221.61" cy="246.0" r="2.55"/><circle cx="223.3" cy="246.54" r="2.55"/><circle cx="224.99" cy="247.17" r="2.55"/><circle cx="226.68" cy="247.8" r="2.55"/><circle cx="228.37" cy="248.59" r="2.55"/><circle cx="230.06" cy="249.53" r="2.55"/><circle cx="231.75" cy="250.37" r="2.55"/><circle cx="233.44" cy="251.23" r="2.55"/><circle cx="235.13" cy="252.65" r="2.55"/><circle cx="236.82" cy="254.05" r="2.55"/><circle cx="238.51" cy="255.18" r="2.55"/><circle cx="240.2" cy="256.45" r="2.55"/><circle cx="241.89" cy="259.76" r="2.55"/><circle cx="243.58" cy="261.76" r="2.55"/><circle cx="245.27" cy="263.19" r="2.55"/><circle cx="246.96" cy="264.19" r="2.55"/><circle cx="248.65" cy="265.02" r="2.55"/><circle cx="250.34" cy="265.8" r="2.55"/><circle cx="252.04" cy="265.8" r="2.55"/><circle cx="253.73" cy="265.93" r="2.55"/><circle cx="255.42" cy="267.62" r="2.55"/><circle cx="257.11" cy="269.44" r="2.55"/><circle cx="258.8" cy="271.46" r="2.55"/><circle cx="260.49" cy="272.83" r="2.55"/><circle cx="262.18" cy="273.97" r="2.55"/><circle cx="263.87" cy="276.73" r="2.55"/><circle cx="265.56" cy="279.19" r="2.55"/><circle cx="267.25" cy="280.33" r="2.55"/><circle cx="268.94" cy="281.23" r="2.55"/><circle cx="270.63" cy="281.78" r="2.55"/><circle cx="272.32" cy="281.63" r="2.55"/><circle cx="274.01" cy="280.54" r="2.55"/><circle cx="275.7" cy="279.61" r="2.55"/><circle cx="277.39" cy="278.92" r="2.55"/><circle cx="279.08" cy="279.77" r="2.55"/><circle cx="280.77" cy="281.35" r="2.55"/><circle cx="282.46" cy="283.21" r="2.55"/><circle cx="284.15" cy="285.07" r="2.55"/><circle cx="285.85" cy="286.44" r="2.55"/><circle cx="287.54" cy="287.32" r="2.55"/><circle cx="289.23" cy="288.2" r="2.55"/><circle cx="290.92" cy="288.86" r="2.55"/><circle cx="292.61" cy="289.34" r="2.55"/><circle cx="294.3" cy="289.82" r="2.55"/><circle cx="295.99" cy="290.3" r="2.55"/><circle cx="297.68" cy="290.8" r="2.55"/><circle cx="299.37" cy="291.31" r="2.55"/><circle cx="301.06" cy="291.95" r="2.55"/><circle cx="302.75" cy="292.66" r="2.55"/><circle cx="304.44" cy="293.37" r="2.55"/><circle cx="306.13" cy="293.98" r="2.55"/><circle cx="307.82" cy="294.56" r="2.55"/><circle cx="309.51" cy="295.13" r="2.55"/><circle cx="311.2" cy="295.13" r="2.55"/><circle cx="312.89" cy="294.88" r="2.55"/><circle cx="314.58" cy="294.64" r="2.55"/><circle cx="316.27" cy="294.41" r="2.55"/><circle cx="317.96" cy="294.84" r="2.55"/><circle cx="319.66" cy="295.27" r="2.55"/><circle cx="321.35" cy="295.7" r="2.55"/><circle cx="323.04" cy="296.1" r="2.55"/><circle cx="324.73" cy="296.4" r="2.55"/><circle cx="326.42" cy="296.71" r="2.55"/><circle cx="328.11" cy="296.96" r="2.55"/><circle cx="329.8" cy="297.12" r="2.55"/><circle cx="331.49" cy="297.28" r="2.55"/><circle cx="333.18" cy="297.45" r="2.55"/><circle cx="334.87" cy="296.38" r="2.55"/><circle cx="336.56" cy="294.69" r="2.55"/><circle cx="338.25" cy="293.15" r="2.55"/><circle cx="339.94" cy="291.8" r="2.55"/><circle cx="341.63" cy="290.44" r="2.55"/><circle cx="343.32" cy="289.09" r="2.55"/><circle cx="345.01" cy="289.0" r="2.55"/><circle cx="346.7" cy="289.34" r="2.55"/><circle cx="348.39" cy="289.68" r="2.55"/><circle cx="350.08" cy="289.97" r="2.55"/><circle cx="351.77" cy="289.29" r="2.55"/><circle cx="353.47" cy="288.61" r="2.55"/><circle cx="355.16" cy="287.94" r="2.55"/><circle cx="356.85" cy="287.2" r="2.55"/><circle cx="358.54" cy="286.37" r="2.55"/><circle cx="360.23" cy="285.53" r="2.55"/><circle cx="361.92" cy="284.69" r="2.55"/><circle cx="363.61" cy="284.17" r="2.55"/><circle cx="365.3" cy="283.82" r="2.55"/><circle cx="366.99" cy="283.47" r="2.55"/><circle cx="368.68" cy="283.11" r="2.55"/><circle cx="370.37" cy="281.22" r="2.55"/><circle cx="372.06" cy="279.26" r="2.55"/><circle cx="373.75" cy="277.96" r="2.55"/><circle cx="375.44" cy="276.9" r="2.55"/><circle cx="377.13" cy="275.83" r="2.55"/><circle cx="378.82" cy="275.28" r="2.55"/><circle cx="380.51" cy="275.9" r="2.55"/><circle cx="382.2" cy="278.88" r="2.55"/><circle cx="383.89" cy="279.4" r="2.55"/><circle cx="385.58" cy="279.4" r="2.55"/><circle cx="387.28" cy="279.4" r="2.55"/><circle cx="388.97" cy="279.1" r="2.55"/><circle cx="390.66" cy="278.74" r="2.55"/><circle cx="392.35" cy="278.39" r="2.55"/><circle cx="394.04" cy="278.22" r="2.55"/><circle cx="395.73" cy="278.89" r="2.55"/><circle cx="397.42" cy="279.57" r="2.55"/><circle cx="399.11" cy="280.24" r="2.55"/><circle cx="400.8" cy="280.54" r="2.55"/><circle cx="402.49" cy="280.4" r="2.55"/><circle cx="404.18" cy="280.27" r="2.55"/><circle cx="405.87" cy="280.13" r="2.55"/><circle cx="407.56" cy="280.02" r="2.55"/><circle cx="409.25" cy="280.7" r="2.55"/><circle cx="410.94" cy="281.38" r="2.55"/><circle cx="412.63" cy="282.05" r="2.55"/><circle cx="414.32" cy="282.61" r="2.55"/><circle cx="416.01" cy="282.95" r="2.55"/><circle cx="417.7" cy="283.29" r="2.55"/><circle cx="419.39" cy="283.63" r="2.55"/><circle cx="421.09" cy="283.84" r="2.55"/><circle cx="422.78" cy="283.99" r="2.55"/><circle cx="424.47" cy="284.14" r="2.55"/><circle cx="426.16" cy="284.28" r="2.55"/><circle cx="427.85" cy="284.46" r="2.55"/><circle cx="429.54" cy="284.73" r="2.55"/><circle cx="431.23" cy="285.0" r="2.55"/><circle cx="432.92" cy="285.27" r="2.55"/><circle cx="434.61" cy="285.54" r="2.55"/><circle cx="436.3" cy="286.09" r="2.55"/><circle cx="437.99" cy="286.74" r="2.55"/><circle cx="439.68" cy="287.38" r="2.55"/><circle cx="441.37" cy="288.87" r="2.55"/><circle cx="443.06" cy="290.56" r="2.55"/><circle cx="444.75" cy="290.92" r="2.55"/><circle cx="446.44" cy="290.35" r="2.55"/><circle cx="448.13" cy="290.0" r="2.55"/><circle cx="449.82" cy="290.0" r="2.55"/><circle cx="451.51" cy="289.53" r="2.55"/><circle cx="453.2" cy="286.52" r="2.55"/><circle cx="454.9" cy="284.62" r="2.55"/><circle cx="456.59" cy="285.38" r="2.55"/><circle cx="458.28" cy="286.13" r="2.55"/><circle cx="459.97" cy="286.89" r="2.55"/><circle cx="461.66" cy="287.72" r="2.55"/><circle cx="463.35" cy="288.56" r="2.55"/><circle cx="465.04" cy="289.4" r="2.55"/><circle cx="466.73" cy="289.95" r="2.55"/><circle cx="468.42" cy="289.79" r="2.55"/><circle cx="470.11" cy="289.63" r="2.55"/><circle cx="471.8" cy="289.47" r="2.55"/><circle cx="473.49" cy="289.64" r="2.55"/><circle cx="475.18" cy="290.06" r="2.55"/><circle cx="476.87" cy="290.48" r="2.55"/><circle cx="478.56" cy="290.9" r="2.55"/><circle cx="480.25" cy="291.28" r="2.55"/><circle cx="481.94" cy="291.45" r="2.55"/><circle cx="483.63" cy="291.63" r="2.55"/><circle cx="485.32" cy="291.8" r="2.55"/><circle cx="487.01" cy="291.77" r="2.55"/><circle cx="488.71" cy="291.47" r="2.55"/><circle cx="490.4" cy="291.18" r="2.55"/><circle cx="492.09" cy="290.89" r="2.55"/><circle cx="493.78" cy="290.6" r="2.55"/><circle cx="495.47" cy="290.6" r="2.55"/><circle cx="497.16" cy="290.69" r="2.55"/><circle cx="498.85" cy="290.87" r="2.55"/><circle cx="500.54" cy="291.05" r="2.55"/><circle cx="502.23" cy="291.22" r="2.55"/><circle cx="503.92" cy="291.1" r="2.55"/><circle cx="505.61" cy="290.93" r="2.55"/><circle cx="507.3" cy="290.75" r="2.55"/><circle cx="508.99" cy="290.5" r="2.55"/><circle cx="510.68" cy="289.83" r="2.55"/><circle cx="512.37" cy="289.15" r="2.55"/><circle cx="514.06" cy="288.47" r="2.55"/><circle cx="515.75" cy="287.96" r="2.55"/><circle cx="517.44" cy="287.63" r="2.55"/><circle cx="519.13" cy="287.31" r="2.55"/><circle cx="520.83" cy="286.98" r="2.55"/><circle cx="522.52" cy="287.02" r="2.55"/><circle cx="524.21" cy="287.18" r="2.55"/><circle cx="525.9" cy="287.35" r="2.55"/><circle cx="527.59" cy="287.49" r="2.55"/><circle cx="529.28" cy="287.33" r="2.55"/><circle cx="530.97" cy="287.17" r="2.55"/><circle cx="532.66" cy="287.0" r="2.55"/><circle cx="534.35" cy="286.29" r="2.55"/><circle cx="536.04" cy="284.58" r="2.55"/><circle cx="537.73" cy="283.01" r="2.55"/><circle cx="539.42" cy="282.39" r="2.55"/><circle cx="541.11" cy="281.76" r="2.55"/><circle cx="542.8" cy="281.19" r="2.55"/><circle cx="544.49" cy="280.85" r="2.55"/><circle cx="546.18" cy="280.51" r="2.55"/><circle cx="547.87" cy="280.18" r="2.55"/><circle cx="549.56" cy="279.75" r="2.55"/><circle cx="551.25" cy="279.24" r="2.55"/><circle cx="552.94" cy="278.72" r="2.55"/><circle cx="554.63" cy="278.21" r="2.55"/><circle cx="556.33" cy="277.28" r="2.55"/><circle cx="558.02" cy="276.23" r="2.55"/><circle cx="559.71" cy="275.18" r="2.55"/><circle cx="561.4" cy="271.97" r="2.55"/><circle cx="563.09" cy="268.37" r="2.55"/><circle cx="564.78" cy="265.83" r="2.55"/><circle cx="566.47" cy="263.63" r="2.55"/><circle cx="568.16" cy="262.27" r="2.55"/><circle cx="569.85" cy="260.92" r="2.55"/><circle cx="571.54" cy="259.62" r="2.55"/><circle cx="573.23" cy="258.31" r="2.55"/><circle cx="574.92" cy="257.7" r="2.55"/><circle cx="576.61" cy="260.1" r="2.55"/><circle cx="578.3" cy="262.05" r="2.55"/><circle cx="579.99" cy="263.74" r="2.55"/><circle cx="581.68" cy="263.28" r="2.55"/><circle cx="583.37" cy="262.36" r="2.55"/><circle cx="585.06" cy="260.47" r="2.55"/><circle cx="586.75" cy="257.94" r="2.55"/><circle cx="588.44" cy="249.77" r="2.55"/><circle cx="590.14" cy="244.84" r="2.55"/><circle cx="591.83" cy="240.79" r="2.55"/><circle cx="593.52" cy="237.79" r="2.55"/><circle cx="595.21" cy="236.61" r="2.55"/><circle cx="596.9" cy="235.42" r="2.55"/><circle cx="598.59" cy="234.18" r="2.55"/><circle cx="600.28" cy="232.92" r="2.55"/><circle cx="601.97" cy="231.65" r="2.55"/><circle cx="603.66" cy="230.38" r="2.55"/><circle cx="605.35" cy="229.11" r="2.55"/><circle cx="607.04" cy="227.84" r="2.55"/><circle cx="608.73" cy="225.93" r="2.55"/><circle cx="610.42" cy="223.78" r="2.55"/><circle cx="612.11" cy="221.97" r="2.55"/><circle cx="613.8" cy="222.49" r="2.55"/><circle cx="615.49" cy="222.15" r="2.55"/><circle cx="617.18" cy="221.19" r="2.55"/><circle cx="618.87" cy="219.73" r="2.55"/><circle cx="620.56" cy="219.31" r="2.55"/><circle cx="622.25" cy="221.0" r="2.55"/><circle cx="623.95" cy="223.42" r="2.55"/><circle cx="625.64" cy="231.29" r="2.55"/><circle cx="627.33" cy="232.98" r="2.55"/><circle cx="629.02" cy="234.23" r="2.55"/><circle cx="630.71" cy="233.17" r="2.55"/><circle cx="632.4" cy="232.1" r="2.55"/><circle cx="634.09" cy="230.58" r="2.55"/><circle cx="635.78" cy="227.22" r="2.55"/><circle cx="637.47" cy="224.59" r="2.55"/><circle cx="639.16" cy="223.39" r="2.55"/><circle cx="640.85" cy="222.18" r="2.55"/><circle cx="642.54" cy="220.92" r="2.55"/><circle cx="644.23" cy="219.63" r="2.55"/><circle cx="645.92" cy="218.35" r="2.55"/><circle cx="647.61" cy="210.74" r="2.55"/><circle cx="649.3" cy="205.41" r="2.55"/><circle cx="650.99" cy="201.98" r="2.55"/><circle cx="652.68" cy="199.76" r="2.55"/><circle cx="654.37" cy="197.53" r="2.55"/><circle cx="656.07" cy="196.64" r="2.55"/><circle cx="657.76" cy="195.78" r="2.55"/><circle cx="659.45" cy="196.04" r="2.55"/><circle cx="661.14" cy="196.59" r="2.55"/><circle cx="662.83" cy="197.21" r="2.55"/><circle cx="664.52" cy="198.71" r="2.55"/><circle cx="666.21" cy="200.24" r="2.55"/><circle cx="667.9" cy="208.07" r="2.55"/><circle cx="669.59" cy="207.28" r="2.55"/><circle cx="671.28" cy="206.62" r="2.55"/><circle cx="672.97" cy="206.09" r="2.55"/><circle cx="674.66" cy="205.34" r="2.55"/><circle cx="676.35" cy="204.33" r="2.55"/><circle cx="678.04" cy="201.74" r="2.55"/><circle cx="679.73" cy="197.29" r="2.55"/><circle cx="681.42" cy="197.79" r="2.55"/><circle cx="683.11" cy="199.7" r="2.55"/><circle cx="684.8" cy="201.31" r="2.55"/><circle cx="686.49" cy="202.91" r="2.55"/><circle cx="688.18" cy="204.03" r="2.55"/><circle cx="689.88" cy="205.05" r="2.55"/><circle cx="691.57" cy="205.3" r="2.55"/><circle cx="693.26" cy="204.97" r="2.55"/><circle cx="694.95" cy="201.41" r="2.55"/></g><g fill="#2d3450" fill-opacity="0.78"><circle cx="123.56" cy="316.5" r="2.1"/><circle cx="125.25" cy="316.47" r="2.1"/><circle cx="126.94" cy="316.44" r="2.1"/><circle cx="128.63" cy="316.41" r="2.1"/><circle cx="130.32" cy="316.38" r="2.1"/><circle cx="132.01" cy="316.35" r="2.1"/><circle cx="133.7" cy="316.31" r="2.1"/><circle cx="135.39" cy="316.28" r="2.1"/><circle cx="137.08" cy="316.25" r="2.1"/><circle cx="138.77" cy="316.22" r="2.1"/><circle cx="140.46" cy="316.15" r="2.1"/><circle cx="142.15" cy="315.97" r="2.1"/><circle cx="143.84" cy="315.78" r="2.1"/><circle cx="145.53" cy="315.59" r="2.1"/><circle cx="147.22" cy="314.99" r="2.1"/><circle cx="148.91" cy="314.39" r="2.1"/><circle cx="150.61" cy="313.68" r="2.1"/><circle cx="152.3" cy="312.78" r="2.1"/><circle cx="153.99" cy="311.87" r="2.1"/><circle cx="155.68" cy="310.85" r="2.1"/><circle cx="157.37" cy="309.77" r="2.1"/><circle cx="159.06" cy="308.69" r="2.1"/><circle cx="160.75" cy="307.25" r="2.1"/><circle cx="162.44" cy="305.56" r="2.1"/><circle cx="164.13" cy="303.71" r="2.1"/><circle cx="165.82" cy="301.6" r="2.1"/><circle cx="167.51" cy="299.07" r="2.1"/><circle cx="169.2" cy="296.1" r="2.1"/><circle cx="170.89" cy="292.4" r="2.1"/><circle cx="172.58" cy="288.17" r="2.1"/><circle cx="174.27" cy="284.46" r="2.1"/><circle cx="175.96" cy="280.18" r="2.1"/><circle cx="177.65" cy="274.6" r="2.1"/><circle cx="179.34" cy="270.15" r="2.1"/><circle cx="181.03" cy="265.05" r="2.1"/><circle cx="182.72" cy="258.9" r="2.1"/><circle cx="184.42" cy="252.59" r="2.1"/><circle cx="186.11" cy="248.2" r="2.1"/><circle cx="187.8" cy="244.69" r="2.1"/><circle cx="189.49" cy="241.84" r="2.1"/><circle cx="191.18" cy="240.58" r="2.1"/><circle cx="192.87" cy="239.47" r="2.1"/><circle cx="194.56" cy="238.89" r="2.1"/><circle cx="196.25" cy="238.3" r="2.1"/><circle cx="197.94" cy="239.2" r="2.1"/><circle cx="199.63" cy="240.1" r="2.1"/><circle cx="201.32" cy="239.7" r="2.1"/><circle cx="203.01" cy="238.94" r="2.1"/><circle cx="204.7" cy="238.35" r="2.1"/><circle cx="206.39" cy="237.77" r="2.1"/><circle cx="208.08" cy="237.15" r="2.1"/><circle cx="209.77" cy="236.51" r="2.1"/><circle cx="211.46" cy="236.58" r="2.1"/><circle cx="213.15" cy="237.41" r="2.1"/><circle cx="214.84" cy="240.93" r="2.1"/><circle cx="216.53" cy="243.44" r="2.1"/><circle cx="218.23" cy="245.04" r="2.1"/><circle cx="219.92" cy="245.52" r="2.1"/><circle cx="221.61" cy="246.0" r="2.1"/><circle cx="223.3" cy="246.54" r="2.1"/><circle cx="224.99" cy="247.17" r="2.1"/><circle cx="226.68" cy="247.8" r="2.1"/><circle cx="228.37" cy="248.59" r="2.1"/><circle cx="230.06" cy="249.53" r="2.1"/><circle cx="231.75" cy="250.37" r="2.1"/><circle cx="233.44" cy="251.23" r="2.1"/><circle cx="235.13" cy="252.65" r="2.1"/><circle cx="236.82" cy="254.05" r="2.1"/><circle cx="238.51" cy="255.18" r="2.1"/><circle cx="240.2" cy="256.45" r="2.1"/><circle cx="241.89" cy="259.76" r="2.1"/><circle cx="243.58" cy="261.76" r="2.1"/><circle cx="245.27" cy="263.19" r="2.1"/><circle cx="246.96" cy="264.19" r="2.1"/><circle cx="248.65" cy="265.02" r="2.1"/><circle cx="250.34" cy="265.8" r="2.1"/><circle cx="252.04" cy="265.8" r="2.1"/><circle cx="253.73" cy="265.93" r="2.1"/><circle cx="255.42" cy="267.62" r="2.1"/><circle cx="257.11" cy="269.44" r="2.1"/><circle cx="258.8" cy="271.46" r="2.1"/><circle cx="260.49" cy="272.83" r="2.1"/><circle cx="262.18" cy="273.97" r="2.1"/><circle cx="263.87" cy="276.73" r="2.1"/><circle cx="265.56" cy="279.19" r="2.1"/><circle cx="267.25" cy="280.33" r="2.1"/><circle cx="268.94" cy="281.23" r="2.1"/><circle cx="270.63" cy="281.78" r="2.1"/><circle cx="272.32" cy="281.63" r="2.1"/><circle cx="274.01" cy="280.54" r="2.1"/><circle cx="275.7" cy="279.61" r="2.1"/><circle cx="277.39" cy="278.92" r="2.1"/><circle cx="279.08" cy="279.77" r="2.1"/><circle cx="280.77" cy="281.35" r="2.1"/><circle cx="282.46" cy="283.21" r="2.1"/><circle cx="284.15" cy="285.07" r="2.1"/><circle cx="285.85" cy="286.44" r="2.1"/><circle cx="287.54" cy="287.32" r="2.1"/><circle cx="289.23" cy="288.2" r="2.1"/><circle cx="290.92" cy="288.86" r="2.1"/><circle cx="292.61" cy="289.34" r="2.1"/><circle cx="294.3" cy="289.82" r="2.1"/><circle cx="295.99" cy="290.3" r="2.1"/><circle cx="297.68" cy="290.8" r="2.1"/><circle cx="299.37" cy="291.31" r="2.1"/><circle cx="301.06" cy="291.95" r="2.1"/><circle cx="302.75" cy="292.66" r="2.1"/><circle cx="304.44" cy="293.37" r="2.1"/><circle cx="306.13" cy="293.98" r="2.1"/><circle cx="307.82" cy="294.56" r="2.1"/><circle cx="309.51" cy="295.13" r="2.1"/><circle cx="311.2" cy="295.13" r="2.1"/><circle cx="312.89" cy="294.88" r="2.1"/><circle cx="314.58" cy="294.64" r="2.1"/><circle cx="316.27" cy="294.41" r="2.1"/><circle cx="317.96" cy="294.84" r="2.1"/><circle cx="319.66" cy="295.27" r="2.1"/><circle cx="321.35" cy="295.7" r="2.1"/><circle cx="323.04" cy="296.1" r="2.1"/><circle cx="324.73" cy="296.4" r="2.1"/><circle cx="326.42" cy="296.71" r="2.1"/><circle cx="328.11" cy="296.96" r="2.1"/><circle cx="329.8" cy="297.12" r="2.1"/><circle cx="331.49" cy="297.28" r="2.1"/><circle cx="333.18" cy="297.45" r="2.1"/><circle cx="334.87" cy="296.38" r="2.1"/><circle cx="336.56" cy="294.69" r="2.1"/><circle cx="338.25" cy="293.15" r="2.1"/><circle cx="339.94" cy="291.8" r="2.1"/><circle cx="341.63" cy="290.44" r="2.1"/><circle cx="343.32" cy="289.09" r="2.1"/><circle cx="345.01" cy="289.0" r="2.1"/><circle cx="346.7" cy="289.34" r="2.1"/><circle cx="348.39" cy="289.68" r="2.1"/><circle cx="350.08" cy="289.97" r="2.1"/><circle cx="351.77" cy="289.29" r="2.1"/><circle cx="353.47" cy="288.61" r="2.1"/><circle cx="355.16" cy="287.94" r="2.1"/><circle cx="356.85" cy="287.2" r="2.1"/><circle cx="358.54" cy="286.37" r="2.1"/><circle cx="360.23" cy="285.53" r="2.1"/><circle cx="361.92" cy="284.69" r="2.1"/><circle cx="363.61" cy="284.17" r="2.1"/><circle cx="365.3" cy="283.82" r="2.1"/><circle cx="366.99" cy="283.47" r="2.1"/><circle cx="368.68" cy="283.11" r="2.1"/><circle cx="370.37" cy="281.22" r="2.1"/><circle cx="372.06" cy="279.26" r="2.1"/><circle cx="373.75" cy="277.96" r="2.1"/><circle cx="375.44" cy="276.9" r="2.1"/><circle cx="377.13" cy="275.83" r="2.1"/><circle cx="378.82" cy="275.28" r="2.1"/><circle cx="380.51" cy="275.9" r="2.1"/><circle cx="382.2" cy="278.88" r="2.1"/><circle cx="383.89" cy="279.4" r="2.1"/><circle cx="385.58" cy="279.4" r="2.1"/><circle cx="387.28" cy="279.4" r="2.1"/><circle cx="388.97" cy="279.1" r="2.1"/><circle cx="390.66" cy="278.74" r="2.1"/><circle cx="392.35" cy="278.39" r="2.1"/><circle cx="394.04" cy="278.22" r="2.1"/><circle cx="395.73" cy="278.89" r="2.1"/><circle cx="397.42" cy="279.57" r="2.1"/><circle cx="399.11" cy="280.24" r="2.1"/><circle cx="400.8" cy="280.54" r="2.1"/><circle cx="402.49" cy="280.4" r="2.1"/><circle cx="404.18" cy="280.27" r="2.1"/><circle cx="405.87" cy="280.13" r="2.1"/><circle cx="407.56" cy="280.02" r="2.1"/><circle cx="409.25" cy="280.7" r="2.1"/><circle cx="410.94" cy="281.38" r="2.1"/><circle cx="412.63" cy="282.05" r="2.1"/><circle cx="414.32" cy="282.61" r="2.1"/><circle cx="416.01" cy="282.95" r="2.1"/><circle cx="417.7" cy="283.29" r="2.1"/><circle cx="419.39" cy="283.63" r="2.1"/><circle cx="421.09" cy="283.84" r="2.1"/><circle cx="422.78" cy="283.99" r="2.1"/><circle cx="424.47" cy="284.14" r="2.1"/><circle cx="426.16" cy="284.28" r="2.1"/><circle cx="427.85" cy="284.46" r="2.1"/><circle cx="429.54" cy="284.73" r="2.1"/><circle cx="431.23" cy="285.0" r="2.1"/><circle cx="432.92" cy="285.27" r="2.1"/><circle cx="434.61" cy="285.54" r="2.1"/><circle cx="436.3" cy="286.09" r="2.1"/><circle cx="437.99" cy="286.74" r="2.1"/><circle cx="439.68" cy="287.38" r="2.1"/><circle cx="441.37" cy="288.87" r="2.1"/><circle cx="443.06" cy="290.56" r="2.1"/><circle cx="444.75" cy="290.92" r="2.1"/><circle cx="446.44" cy="290.35" r="2.1"/><circle cx="448.13" cy="290.0" r="2.1"/><circle cx="449.82" cy="290.0" r="2.1"/><circle cx="451.51" cy="289.53" r="2.1"/><circle cx="453.2" cy="286.52" r="2.1"/><circle cx="454.9" cy="284.62" r="2.1"/><circle cx="456.59" cy="285.38" r="2.1"/><circle cx="458.28" cy="286.13" r="2.1"/><circle cx="459.97" cy="286.89" r="2.1"/><circle cx="461.66" cy="287.72" r="2.1"/><circle cx="463.35" cy="288.56" r="2.1"/><circle cx="465.04" cy="289.4" r="2.1"/><circle cx="466.73" cy="289.95" r="2.1"/><circle cx="468.42" cy="289.79" r="2.1"/><circle cx="470.11" cy="289.63" r="2.1"/><circle cx="471.8" cy="289.47" r="2.1"/><circle cx="473.49" cy="289.64" r="2.1"/><circle cx="475.18" cy="290.06" r="2.1"/><circle cx="476.87" cy="290.48" r="2.1"/><circle cx="478.56" cy="290.9" r="2.1"/><circle cx="480.25" cy="291.28" r="2.1"/><circle cx="481.94" cy="291.45" r="2.1"/><circle cx="483.63" cy="291.63" r="2.1"/><circle cx="485.32" cy="291.8" r="2.1"/><circle cx="487.01" cy="291.77" r="2.1"/><circle cx="488.71" cy="291.47" r="2.1"/><circle cx="490.4" cy="291.18" r="2.1"/><circle cx="492.09" cy="290.89" r="2.1"/><circle cx="493.78" cy="290.6" r="2.1"/><circle cx="495.47" cy="290.6" r="2.1"/><circle cx="497.16" cy="290.69" r="2.1"/><circle cx="498.85" cy="290.87" r="2.1"/><circle cx="500.54" cy="291.05" r="2.1"/><circle cx="502.23" cy="291.22" r="2.1"/><circle cx="503.92" cy="291.1" r="2.1"/><circle cx="505.61" cy="290.93" r="2.1"/><circle cx="507.3" cy="290.75" r="2.1"/><circle cx="508.99" cy="290.5" r="2.1"/><circle cx="510.68" cy="289.83" r="2.1"/><circle cx="512.37" cy="289.15" r="2.1"/><circle cx="514.06" cy="288.47" r="2.1"/><circle cx="515.75" cy="287.96" r="2.1"/><circle cx="517.44" cy="287.63" r="2.1"/><circle cx="519.13" cy="287.31" r="2.1"/><circle cx="520.83" cy="286.98" r="2.1"/><circle cx="522.52" cy="287.02" r="2.1"/><circle cx="524.21" cy="287.18" r="2.1"/><circle cx="525.9" cy="287.35" r="2.1"/><circle cx="527.59" cy="287.49" r="2.1"/><circle cx="529.28" cy="287.33" r="2.1"/><circle cx="530.97" cy="287.17" r="2.1"/><circle cx="532.66" cy="287.0" r="2.1"/><circle cx="534.35" cy="286.29" r="2.1"/><circle cx="536.04" cy="284.58" r="2.1"/><circle cx="537.73" cy="283.01" r="2.1"/><circle cx="539.42" cy="282.39" r="2.1"/><circle cx="541.11" cy="281.76" r="2.1"/><circle cx="542.8" cy="281.19" r="2.1"/><circle cx="544.49" cy="280.85" r="2.1"/><circle cx="546.18" cy="280.51" r="2.1"/><circle cx="547.87" cy="280.18" r="2.1"/><circle cx="549.56" cy="279.75" r="2.1"/><circle cx="551.25" cy="279.24" r="2.1"/><circle cx="552.94" cy="278.72" r="2.1"/><circle cx="554.63" cy="278.21" r="2.1"/><circle cx="556.33" cy="277.28" r="2.1"/><circle cx="558.02" cy="276.23" r="2.1"/><circle cx="559.71" cy="275.18" r="2.1"/><circle cx="561.4" cy="271.97" r="2.1"/><circle cx="563.09" cy="268.37" r="2.1"/><circle cx="564.78" cy="265.83" r="2.1"/><circle cx="566.47" cy="263.63" r="2.1"/><circle cx="568.16" cy="262.27" r="2.1"/><circle cx="569.85" cy="260.92" r="2.1"/><circle cx="571.54" cy="259.62" r="2.1"/><circle cx="573.23" cy="258.31" r="2.1"/><circle cx="574.92" cy="257.7" r="2.1"/><circle cx="576.61" cy="260.1" r="2.1"/><circle cx="578.3" cy="262.05" r="2.1"/><circle cx="579.99" cy="263.74" r="2.1"/><circle cx="581.68" cy="263.28" r="2.1"/><circle cx="583.37" cy="262.36" r="2.1"/><circle cx="585.06" cy="260.47" r="2.1"/><circle cx="586.75" cy="257.94" r="2.1"/><circle cx="588.44" cy="249.77" r="2.1"/><circle cx="590.14" cy="244.84" r="2.1"/><circle cx="591.83" cy="240.79" r="2.1"/><circle cx="593.52" cy="237.79" r="2.1"/><circle cx="595.21" cy="236.61" r="2.1"/><circle cx="596.9" cy="235.42" r="2.1"/><circle cx="598.59" cy="234.18" r="2.1"/><circle cx="600.28" cy="232.92" r="2.1"/><circle cx="601.97" cy="231.65" r="2.1"/><circle cx="603.66" cy="230.38" r="2.1"/><circle cx="605.35" cy="229.11" r="2.1"/><circle cx="607.04" cy="227.84" r="2.1"/><circle cx="608.73" cy="225.93" r="2.1"/><circle cx="610.42" cy="223.78" r="2.1"/><circle cx="612.11" cy="221.97" r="2.1"/><circle cx="613.8" cy="222.49" r="2.1"/><circle cx="615.49" cy="222.15" r="2.1"/><circle cx="617.18" cy="221.19" r="2.1"/><circle cx="618.87" cy="219.73" r="2.1"/><circle cx="620.56" cy="219.31" r="2.1"/><circle cx="622.25" cy="221.0" r="2.1"/><circle cx="623.95" cy="223.42" r="2.1"/><circle cx="625.64" cy="231.29" r="2.1"/><circle cx="627.33" cy="232.98" r="2.1"/><circle cx="629.02" cy="234.23" r="2.1"/><circle cx="630.71" cy="233.17" r="2.1"/><circle cx="632.4" cy="232.1" r="2.1"/><circle cx="634.09" cy="230.58" r="2.1"/><circle cx="635.78" cy="227.22" r="2.1"/><circle cx="637.47" cy="224.59" r="2.1"/><circle cx="639.16" cy="223.39" r="2.1"/><circle cx="640.85" cy="222.18" r="2.1"/><circle cx="642.54" cy="220.92" r="2.1"/><circle cx="644.23" cy="219.63" r="2.1"/><circle cx="645.92" cy="218.35" r="2.1"/><circle cx="647.61" cy="210.74" r="2.1"/><circle cx="649.3" cy="205.41" r="2.1"/><circle cx="650.99" cy="201.98" r="2.1"/><circle cx="652.68" cy="199.76" r="2.1"/><circle cx="654.37" cy="197.53" r="2.1"/><circle cx="656.07" cy="196.64" r="2.1"/><circle cx="657.76" cy="195.78" r="2.1"/><circle cx="659.45" cy="196.04" r="2.1"/><circle cx="661.14" cy="196.59" r="2.1"/><circle cx="662.83" cy="197.21" r="2.1"/><circle cx="664.52" cy="198.71" r="2.1"/><circle cx="666.21" cy="200.24" r="2.1"/><circle cx="667.9" cy="208.07" r="2.1"/><circle cx="669.59" cy="207.28" r="2.1"/><circle cx="671.28" cy="206.62" r="2.1"/><circle cx="672.97" cy="206.09" r="2.1"/><circle cx="674.66" cy="205.34" r="2.1"/><circle cx="676.35" cy="204.33" r="2.1"/><circle cx="678.04" cy="201.74" r="2.1"/><circle cx="679.73" cy="197.29" r="2.1"/><circle cx="681.42" cy="197.79" r="2.1"/><circle cx="683.11" cy="199.7" r="2.1"/><circle cx="684.8" cy="201.31" r="2.1"/><circle cx="686.49" cy="202.91" r="2.1"/><circle cx="688.18" cy="204.03" r="2.1"/><circle cx="689.88" cy="205.05" r="2.1"/><circle cx="691.57" cy="205.3" r="2.1"/><circle cx="693.26" cy="204.97" r="2.1"/><circle cx="694.95" cy="201.41" r="2.1"/></g><rect x="93.5" y="118.9" width="629.8" height="206.6" fill="none" stroke="#737373" stroke-width="1.1"/><path d="M89.8 316.50H93.5M89.8 278.74H93.5M89.8 240.98H93.5M89.8 203.22H93.5M89.8 165.46H93.5M89.8 127.70H93.5M723.3 316.50H726.9M723.3 244.95H726.9M723.3 173.40H726.9M98.20 325.5V329.3M110.03 325.5V329.3M121.87 325.5V329.3M133.70 325.5V329.3M145.53 325.5V329.3M157.37 325.5V329.3M169.20 325.5V329.3M181.03 325.5V329.3M192.87 325.5V329.3M204.70 325.5V329.3M216.53 325.5V329.3M228.37 325.5V329.3M240.20 325.5V329.3M252.04 325.5V329.3M263.87 325.5V329.3M275.70 325.5V329.3M287.54 325.5V329.3M299.37 325.5V329.3M311.20 325.5V329.3M323.04 325.5V329.3M334.87 325.5V329.3M346.70 325.5V329.3M358.54 325.5V329.3M370.37 325.5V329.3M382.20 325.5V329.3M394.04 325.5V329.3M405.87 325.5V329.3M417.70 325.5V329.3M429.54 325.5V329.3M441.37 325.5V329.3M453.20 325.5V329.3M465.04 325.5V329.3M476.87 325.5V329.3M488.71 325.5V329.3M500.54 325.5V329.3M512.37 325.5V329.3M524.21 325.5V329.3M536.04 325.5V329.3M547.87 325.5V329.3M559.71 325.5V329.3M571.54 325.5V329.3M583.37 325.5V329.3M595.21 325.5V329.3M607.04 325.5V329.3M618.87 325.5V329.3M630.71 325.5V329.3M642.54 325.5V329.3M654.37 325.5V329.3M666.21 325.5V329.3M678.04 325.5V329.3M689.88 325.5V329.3M701.71 325.5V329.3M713.54 325.5V329.3" stroke="#222" stroke-width="1.15" fill="none"/><g font-size="15" fill="#cc0000"><text x="86" y="321.80" text-anchor="end">0</text><text x="86" y="284.04" text-anchor="end">50,000</text><text x="86" y="246.28" text-anchor="end">100,000</text><text x="86" y="208.52" text-anchor="end">150,000</text><text x="86" y="170.76" text-anchor="end">200,000</text><text x="86" y="133.00" text-anchor="end">250,000</text></g><g font-size="15" fill="#1c2546"><text x="730.4" y="321.80">0</text><text x="730.4" y="250.25">2,000</text><text x="730.4" y="178.70">4,000</text></g><g font-size="10.7" fill="#3d3d3d"><text transform="translate(104.30,337.2) rotate(-60)" text-anchor="end">Feb17</text><text transform="translate(116.13,337.2) rotate(-60)" text-anchor="end">Feb24</text><text transform="translate(127.97,337.2) rotate(-60)" text-anchor="end">Mar02</text><text transform="translate(139.80,337.2) rotate(-60)" text-anchor="end">Mar09</text><text transform="translate(151.63,337.2) rotate(-60)" text-anchor="end">Mar16</text><text transform="translate(163.47,337.2) rotate(-60)" text-anchor="end">Mar23</text><text transform="translate(175.30,337.2) rotate(-60)" text-anchor="end">Mar30</text><text transform="translate(187.13,337.2) rotate(-60)" text-anchor="end">Apr06</text><text transform="translate(198.97,337.2) rotate(-60)" text-anchor="end">Apr13</text><text transform="translate(210.80,337.2) rotate(-60)" text-anchor="end">Apr20</text><text transform="translate(222.63,337.2) rotate(-60)" text-anchor="end">Apr27</text><text transform="translate(234.47,337.2) rotate(-60)" text-anchor="end">May04</text><text transform="translate(246.30,337.2) rotate(-60)" text-anchor="end">May11</text><text transform="translate(258.14,337.2) rotate(-60)" text-anchor="end">May18</text><text transform="translate(269.97,337.2) rotate(-60)" text-anchor="end">May25</text><text transform="translate(281.80,337.2) rotate(-60)" text-anchor="end">Jun01</text><text transform="translate(293.64,337.2) rotate(-60)" text-anchor="end">Jun08</text><text transform="translate(305.47,337.2) rotate(-60)" text-anchor="end">Jun15</text><text transform="translate(317.30,337.2) rotate(-60)" text-anchor="end">Jun22</text><text transform="translate(329.14,337.2) rotate(-60)" text-anchor="end">Jun29</text><text transform="translate(340.97,337.2) rotate(-60)" text-anchor="end">Jul06</text><text transform="translate(352.80,337.2) rotate(-60)" text-anchor="end">Jul13</text><text transform="translate(364.64,337.2) rotate(-60)" text-anchor="end">Jul20</text><text transform="translate(376.47,337.2) rotate(-60)" text-anchor="end">Jul27</text><text transform="translate(388.30,337.2) rotate(-60)" text-anchor="end">Aug03</text><text transform="translate(400.14,337.2) rotate(-60)" text-anchor="end">Aug10</text><text transform="translate(411.97,337.2) rotate(-60)" text-anchor="end">Aug17</text><text transform="translate(423.80,337.2) rotate(-60)" text-anchor="end">Aug24</text><text transform="translate(435.64,337.2) rotate(-60)" text-anchor="end">Aug31</text><text transform="translate(447.47,337.2) rotate(-60)" text-anchor="end">Sep07</text><text transform="translate(459.31,337.2) rotate(-60)" text-anchor="end">Sep14</text><text transform="translate(471.14,337.2) rotate(-60)" text-anchor="end">Sep21</text><text transform="translate(482.97,337.2) rotate(-60)" text-anchor="end">Sep28</text><text transform="translate(494.81,337.2) rotate(-60)" text-anchor="end">Oct05</text><text transform="translate(506.64,337.2) rotate(-60)" text-anchor="end">Oct12</text><text transform="translate(518.47,337.2) rotate(-60)" text-anchor="end">Oct19</text><text transform="translate(530.31,337.2) rotate(-60)" text-anchor="end">Oct26</text><text transform="translate(542.14,337.2) rotate(-60)" text-anchor="end">Nov02</text><text transform="translate(553.97,337.2) rotate(-60)" text-anchor="end">Nov09</text><text transform="translate(565.81,337.2) rotate(-60)" text-anchor="end">Nov16</text><text transform="translate(577.64,337.2) rotate(-60)" text-anchor="end">Nov23</text><text transform="translate(589.47,337.2) rotate(-60)" text-anchor="end">Nov30</text><text transform="translate(601.31,337.2) rotate(-60)" text-anchor="end">Dec07</text><text transform="translate(613.14,337.2) rotate(-60)" text-anchor="end">Dec14</text><text transform="translate(624.97,337.2) rotate(-60)" text-anchor="end">Dec21</text><text transform="translate(636.81,337.2) rotate(-60)" text-anchor="end">Dec28</text><text transform="translate(648.64,337.2) rotate(-60)" text-anchor="end">Jan04</text><text transform="translate(660.47,337.2) rotate(-60)" text-anchor="end">Jan11</text><text transform="translate(672.31,337.2) rotate(-60)" text-anchor="end">Jan18</text><text transform="translate(684.14,337.2) rotate(-60)" text-anchor="end">Jan25</text><text transform="translate(695.98,337.2) rotate(-60)" text-anchor="end">Feb01</text><text transform="translate(707.81,337.2) rotate(-60)" text-anchor="end">Feb08</text><text transform="translate(719.64,337.2) rotate(-60)" text-anchor="end">Feb15</text></g><text transform="translate(24.4,222.1) rotate(-90)" text-anchor="middle" font-size="22.8" fill="#cc0000">No. of Cases</text><text transform="translate(771.8,222.4) rotate(90)" text-anchor="middle" font-size="22.9" fill="#111">No. of Deaths</text><text x="409" y="26.2" text-anchor="middle" font-size="25.9" fill="#000">Daily Confirmed New Cases/Deaths*</text><text y="51.8" fill="#000"><tspan x="88.7" font-size="17">U.S.,</tspan><tspan x="131.7" font-size="19.8">as of</tspan><tspan x="185.4" font-size="16.6">Feb. 4, 2021 :</tspan><tspan x="299.4" font-size="19.8">130,039 / 3,220</tspan></text><rect x="302" y="81.6" width="19" height="4.2" fill="#d64d42"/><rect x="415.8" y="81.6" width="18.6" height="4.2" fill="#4f5774"/><text x="331.5" y="89" font-size="15" fill="#1a1a1a">New cases</text><text x="444.5" y="89" font-size="15" fill="#1a1a1a">New deaths</text><text x="94" y="388" font-size="15" fill="#000">*7-day rolling average</text></svg>
</body></html>
